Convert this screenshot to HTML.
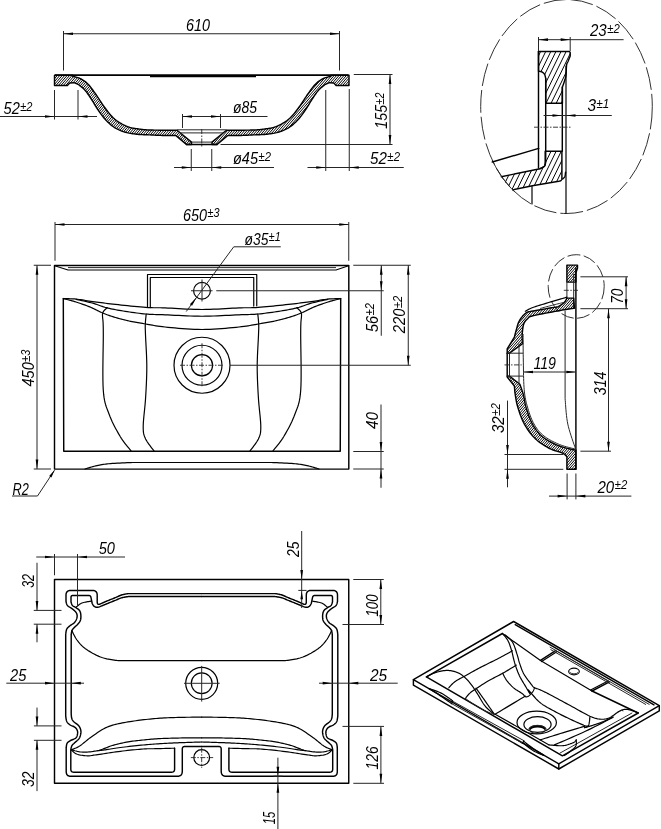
<!DOCTYPE html><html><head><meta charset="utf-8"><title>Drawing</title><style>
html,body{margin:0;padding:0;background:#fff}svg{display:block}
.k{fill:none;stroke:#000;stroke-width:1.45;stroke-linejoin:round;stroke-linecap:round}
.m{fill:none;stroke:#000;stroke-width:1.2;stroke-linejoin:round;stroke-linecap:round}
.t{fill:none;stroke:#262626;stroke-width:1}
.c{fill:none;stroke:#262626;stroke-width:0.9;stroke-dasharray:5 1.5 1.5 1.5}
.e{fill:none;stroke:#262626;stroke-width:0.95;stroke-dasharray:23 4}
.a{fill:#000;stroke:none}
text{font-family:"Liberation Sans",sans-serif;font-style:italic;fill:#000}
</style></head><body>
<svg width="661" height="829" viewBox="0 0 661 829">
<defs>
<pattern id="h1" patternUnits="userSpaceOnUse" width="1.5" height="1.5" patternTransform="rotate(45)"><rect x="0" y="0" width="0.65" height="1.5" fill="#000"/></pattern>
<pattern id="h2" patternUnits="userSpaceOnUse" width="4.6" height="4.6" patternTransform="rotate(27)"><rect x="0" y="0" width="0.7" height="4.6" fill="#000"/></pattern>
</defs>
<rect width="661" height="829" fill="#fff"/>
<g opacity="0.999">
<clipPath id="c1"><path d="M54.5 75.3 L72.7 75.3 L72.7 76.3 L73.15 76.42 L73.74 76.56 L74.42 76.73 L75.2 76.91 L76.03 77.12 L76.9 77.35 L77.79 77.62 L78.66 77.91 L79.51 78.24 L80.3 78.6 L81.05 78.99 L81.8 79.4 L82.55 79.83 L83.3 80.29 L84.05 80.78 L84.8 81.31 L85.55 81.88 L86.3 82.5 L87.05 83.17 L87.8 83.9 L88.56 84.69 L89.31 85.55 L90.07 86.46 L90.83 87.42 L91.59 88.42 L92.36 89.45 L93.12 90.5 L93.88 91.57 L94.64 92.63 L95.4 93.7 L96.16 94.78 L96.92 95.9 L97.68 97.05 L98.44 98.22 L99.21 99.4 L99.97 100.58 L100.73 101.75 L101.49 102.9 L102.24 104.02 L103 105.1 L103.75 106.16 L104.5 107.21 L105.25 108.25 L106 109.28 L106.75 110.29 L107.5 111.27 L108.25 112.23 L109 113.16 L109.75 114.05 L110.5 114.9 L111.24 115.71 L111.97 116.48 L112.68 117.21 L113.39 117.91 L114.11 118.58 L114.84 119.23 L115.6 119.86 L116.39 120.48 L117.22 121.09 L118.1 121.7 L119.03 122.3 L120 122.9 L121.01 123.49 L122.05 124.07 L123.12 124.63 L124.21 125.17 L125.32 125.68 L126.44 126.16 L127.57 126.6 L128.7 127 L129.86 127.36 L131.07 127.68 L132.31 127.96 L133.57 128.21 L134.84 128.44 L136.1 128.64 L137.34 128.82 L138.54 128.99 L139.7 129.15 L140.8 129.3 L141.81 129.44 L142.73 129.55 L143.59 129.64 L144.41 129.72 L145.22 129.78 L146.04 129.83 L146.91 129.88 L147.84 129.92 L148.86 129.96 L150 130 L151.28 130.04 L152.68 130.08 L154.17 130.1 L155.73 130.13 L157.32 130.14 L158.94 130.16 L160.54 130.17 L162.1 130.18 L163.6 130.19 L165 130.2 L166.38 130.21 L167.78 130.21 L169.2 130.21 L170.59 130.21 L171.94 130.21 L173.21 130.21 L174.38 130.21 L175.42 130.2 L176.3 130.2 L177 130.2 L191.5 142.1 L191.5 144.4 L186.4 144.4 L176 135.6 L175.36 135.6 L174.57 135.59 L173.63 135.59 L172.58 135.59 L171.44 135.59 L170.22 135.58 L168.94 135.57 L167.63 135.55 L166.31 135.53 L165 135.5 L163.65 135.46 L162.21 135.41 L160.71 135.36 L159.16 135.3 L157.58 135.23 L156 135.16 L154.43 135.1 L152.89 135.03 L151.41 134.96 L150 134.9 L148.66 134.85 L147.36 134.8 L146.11 134.76 L144.88 134.73 L143.67 134.69 L142.48 134.64 L141.29 134.58 L140.1 134.51 L138.91 134.42 L137.7 134.3 L136.48 134.17 L135.24 134.03 L134.01 133.88 L132.77 133.72 L131.54 133.54 L130.32 133.35 L129.11 133.13 L127.92 132.88 L126.75 132.61 L125.6 132.3 L124.47 131.97 L123.36 131.61 L122.26 131.23 L121.18 130.83 L120.11 130.4 L119.05 129.94 L118.02 129.46 L116.99 128.94 L115.99 128.39 L115 127.8 L114.03 127.18 L113.08 126.51 L112.14 125.82 L111.22 125.09 L110.31 124.33 L109.42 123.55 L108.55 122.74 L107.68 121.91 L106.84 121.06 L106 120.2 L105.18 119.32 L104.39 118.42 L103.62 117.49 L102.86 116.55 L102.11 115.58 L101.37 114.59 L100.64 113.58 L99.9 112.54 L99.15 111.48 L98.4 110.4 L97.63 109.27 L96.85 108.07 L96.07 106.82 L95.28 105.54 L94.5 104.26 L93.72 102.98 L92.96 101.72 L92.22 100.51 L91.5 99.37 L90.8 98.3 L90.14 97.3 L89.5 96.35 L88.89 95.44 L88.29 94.56 L87.71 93.72 L87.13 92.92 L86.56 92.15 L85.98 91.41 L85.4 90.69 L84.8 90 L84.17 89.32 L83.49 88.66 L82.79 88.02 L82.07 87.41 L81.37 86.83 L80.71 86.29 L80.08 85.81 L79.53 85.37 L79.06 85 L78.7 84.7 L74 82.7 L69.7 83 L67.4 85.4 L54.5 85.4 Z"/></clipPath>
<path clip-path="url(#c1)" d="M-10.81 145.4 L51 74.3 M-8.36 145.4 L53.45 74.3 M-5.91 145.4 L55.9 74.3 M-3.46 145.4 L58.35 74.3 M-1.01 145.4 L60.8 74.3 M1.44 145.4 L63.25 74.3 M3.89 145.4 L65.7 74.3 M6.34 145.4 L68.15 74.3 M8.79 145.4 L70.6 74.3 M11.24 145.4 L73.05 74.3 M13.69 145.4 L75.5 74.3 M16.14 145.4 L77.95 74.3 M18.59 145.4 L80.4 74.3 M21.04 145.4 L82.85 74.3 M23.49 145.4 L85.3 74.3 M25.94 145.4 L87.75 74.3 M28.39 145.4 L90.2 74.3 M30.84 145.4 L92.65 74.3 M33.29 145.4 L95.1 74.3 M35.74 145.4 L97.55 74.3 M38.19 145.4 L100 74.3 M40.64 145.4 L102.45 74.3 M43.09 145.4 L104.9 74.3 M45.54 145.4 L107.35 74.3 M47.99 145.4 L109.8 74.3 M50.44 145.4 L112.25 74.3 M52.89 145.4 L114.7 74.3 M55.34 145.4 L117.15 74.3 M57.79 145.4 L119.6 74.3 M60.24 145.4 L122.05 74.3 M62.69 145.4 L124.5 74.3 M65.14 145.4 L126.95 74.3 M67.59 145.4 L129.4 74.3 M70.04 145.4 L131.85 74.3 M72.49 145.4 L134.3 74.3 M74.94 145.4 L136.75 74.3 M77.39 145.4 L139.2 74.3 M79.84 145.4 L141.65 74.3 M82.29 145.4 L144.1 74.3 M84.74 145.4 L146.55 74.3 M87.19 145.4 L149 74.3 M89.64 145.4 L151.45 74.3 M92.09 145.4 L153.9 74.3 M94.54 145.4 L156.35 74.3 M96.99 145.4 L158.8 74.3 M99.44 145.4 L161.25 74.3 M101.89 145.4 L163.7 74.3 M104.34 145.4 L166.15 74.3 M106.79 145.4 L168.6 74.3 M109.24 145.4 L171.05 74.3 M111.69 145.4 L173.5 74.3 M114.14 145.4 L175.95 74.3 M116.59 145.4 L178.4 74.3 M119.04 145.4 L180.85 74.3 M121.49 145.4 L183.3 74.3 M123.94 145.4 L185.75 74.3 M126.39 145.4 L188.2 74.3 M128.84 145.4 L190.65 74.3 M131.29 145.4 L193.1 74.3 M133.74 145.4 L195.55 74.3 M136.19 145.4 L198 74.3 M138.64 145.4 L200.45 74.3 M141.09 145.4 L202.9 74.3 M143.54 145.4 L205.35 74.3 M145.99 145.4 L207.8 74.3 M148.44 145.4 L210.25 74.3 M150.89 145.4 L212.7 74.3 M153.34 145.4 L215.15 74.3 M155.79 145.4 L217.6 74.3 M158.24 145.4 L220.05 74.3 M160.69 145.4 L222.5 74.3 M163.14 145.4 L224.95 74.3 M165.59 145.4 L227.4 74.3 M168.04 145.4 L229.85 74.3 M170.49 145.4 L232.3 74.3 M172.94 145.4 L234.75 74.3 M175.39 145.4 L237.2 74.3 M177.84 145.4 L239.65 74.3 M180.29 145.4 L242.1 74.3 M182.74 145.4 L244.55 74.3 M185.19 145.4 L247 74.3 M187.64 145.4 L249.45 74.3 M190.09 145.4 L251.9 74.3 M192.54 145.4 L254.35 74.3" fill="none" stroke="#000" stroke-width="1.0"/>
<path class="k" d="M54.5 75.3 L72.7 75.3 L72.7 76.3 L73.15 76.42 L73.74 76.56 L74.42 76.73 L75.2 76.91 L76.03 77.12 L76.9 77.35 L77.79 77.62 L78.66 77.91 L79.51 78.24 L80.3 78.6 L81.05 78.99 L81.8 79.4 L82.55 79.83 L83.3 80.29 L84.05 80.78 L84.8 81.31 L85.55 81.88 L86.3 82.5 L87.05 83.17 L87.8 83.9 L88.56 84.69 L89.31 85.55 L90.07 86.46 L90.83 87.42 L91.59 88.42 L92.36 89.45 L93.12 90.5 L93.88 91.57 L94.64 92.63 L95.4 93.7 L96.16 94.78 L96.92 95.9 L97.68 97.05 L98.44 98.22 L99.21 99.4 L99.97 100.58 L100.73 101.75 L101.49 102.9 L102.24 104.02 L103 105.1 L103.75 106.16 L104.5 107.21 L105.25 108.25 L106 109.28 L106.75 110.29 L107.5 111.27 L108.25 112.23 L109 113.16 L109.75 114.05 L110.5 114.9 L111.24 115.71 L111.97 116.48 L112.68 117.21 L113.39 117.91 L114.11 118.58 L114.84 119.23 L115.6 119.86 L116.39 120.48 L117.22 121.09 L118.1 121.7 L119.03 122.3 L120 122.9 L121.01 123.49 L122.05 124.07 L123.12 124.63 L124.21 125.17 L125.32 125.68 L126.44 126.16 L127.57 126.6 L128.7 127 L129.86 127.36 L131.07 127.68 L132.31 127.96 L133.57 128.21 L134.84 128.44 L136.1 128.64 L137.34 128.82 L138.54 128.99 L139.7 129.15 L140.8 129.3 L141.81 129.44 L142.73 129.55 L143.59 129.64 L144.41 129.72 L145.22 129.78 L146.04 129.83 L146.91 129.88 L147.84 129.92 L148.86 129.96 L150 130 L151.28 130.04 L152.68 130.08 L154.17 130.1 L155.73 130.13 L157.32 130.14 L158.94 130.16 L160.54 130.17 L162.1 130.18 L163.6 130.19 L165 130.2 L166.38 130.21 L167.78 130.21 L169.2 130.21 L170.59 130.21 L171.94 130.21 L173.21 130.21 L174.38 130.21 L175.42 130.2 L176.3 130.2 L177 130.2 L191.5 142.1 L191.5 144.4 L186.4 144.4 L176 135.6 L175.36 135.6 L174.57 135.59 L173.63 135.59 L172.58 135.59 L171.44 135.59 L170.22 135.58 L168.94 135.57 L167.63 135.55 L166.31 135.53 L165 135.5 L163.65 135.46 L162.21 135.41 L160.71 135.36 L159.16 135.3 L157.58 135.23 L156 135.16 L154.43 135.1 L152.89 135.03 L151.41 134.96 L150 134.9 L148.66 134.85 L147.36 134.8 L146.11 134.76 L144.88 134.73 L143.67 134.69 L142.48 134.64 L141.29 134.58 L140.1 134.51 L138.91 134.42 L137.7 134.3 L136.48 134.17 L135.24 134.03 L134.01 133.88 L132.77 133.72 L131.54 133.54 L130.32 133.35 L129.11 133.13 L127.92 132.88 L126.75 132.61 L125.6 132.3 L124.47 131.97 L123.36 131.61 L122.26 131.23 L121.18 130.83 L120.11 130.4 L119.05 129.94 L118.02 129.46 L116.99 128.94 L115.99 128.39 L115 127.8 L114.03 127.18 L113.08 126.51 L112.14 125.82 L111.22 125.09 L110.31 124.33 L109.42 123.55 L108.55 122.74 L107.68 121.91 L106.84 121.06 L106 120.2 L105.18 119.32 L104.39 118.42 L103.62 117.49 L102.86 116.55 L102.11 115.58 L101.37 114.59 L100.64 113.58 L99.9 112.54 L99.15 111.48 L98.4 110.4 L97.63 109.27 L96.85 108.07 L96.07 106.82 L95.28 105.54 L94.5 104.26 L93.72 102.98 L92.96 101.72 L92.22 100.51 L91.5 99.37 L90.8 98.3 L90.14 97.3 L89.5 96.35 L88.89 95.44 L88.29 94.56 L87.71 93.72 L87.13 92.92 L86.56 92.15 L85.98 91.41 L85.4 90.69 L84.8 90 L84.17 89.32 L83.49 88.66 L82.79 88.02 L82.07 87.41 L81.37 86.83 L80.71 86.29 L80.08 85.81 L79.53 85.37 L79.06 85 L78.7 84.7 L74 82.7 L69.7 83 L67.4 85.4 L54.5 85.4 Z"/>
<clipPath id="c2"><path d="M349 75.3 L330.8 75.3 L330.8 76.3 L330.35 76.42 L329.76 76.56 L329.08 76.73 L328.3 76.91 L327.47 77.12 L326.6 77.35 L325.71 77.62 L324.84 77.91 L323.99 78.24 L323.2 78.6 L322.45 78.99 L321.7 79.4 L320.95 79.83 L320.2 80.29 L319.45 80.78 L318.7 81.31 L317.95 81.88 L317.2 82.5 L316.45 83.17 L315.7 83.9 L314.94 84.69 L314.19 85.55 L313.43 86.46 L312.67 87.42 L311.91 88.42 L311.14 89.45 L310.38 90.5 L309.62 91.57 L308.86 92.63 L308.1 93.7 L307.34 94.78 L306.58 95.9 L305.82 97.05 L305.06 98.22 L304.29 99.4 L303.53 100.58 L302.77 101.75 L302.01 102.9 L301.26 104.02 L300.5 105.1 L299.75 106.16 L299 107.21 L298.25 108.25 L297.5 109.28 L296.75 110.29 L296 111.27 L295.25 112.23 L294.5 113.16 L293.75 114.05 L293 114.9 L292.26 115.71 L291.53 116.48 L290.82 117.21 L290.11 117.91 L289.39 118.58 L288.66 119.23 L287.9 119.86 L287.11 120.48 L286.28 121.09 L285.4 121.7 L284.47 122.3 L283.5 122.9 L282.49 123.49 L281.45 124.07 L280.38 124.63 L279.29 125.17 L278.18 125.68 L277.06 126.16 L275.93 126.6 L274.8 127 L273.64 127.36 L272.43 127.68 L271.19 127.96 L269.93 128.21 L268.66 128.44 L267.4 128.64 L266.16 128.82 L264.96 128.99 L263.8 129.15 L262.7 129.3 L261.69 129.44 L260.77 129.55 L259.91 129.64 L259.09 129.72 L258.28 129.78 L257.46 129.83 L256.59 129.88 L255.66 129.92 L254.64 129.96 L253.5 130 L252.22 130.04 L250.82 130.08 L249.33 130.1 L247.77 130.13 L246.18 130.14 L244.56 130.16 L242.96 130.17 L241.4 130.18 L239.9 130.19 L238.5 130.2 L237.12 130.21 L235.72 130.21 L234.3 130.21 L232.91 130.21 L231.56 130.21 L230.29 130.21 L229.12 130.21 L228.08 130.2 L227.2 130.2 L226.5 130.2 L212 142.1 L212 144.4 L217.1 144.4 L227.5 135.6 L228.14 135.6 L228.93 135.59 L229.87 135.59 L230.92 135.59 L232.06 135.59 L233.28 135.58 L234.56 135.57 L235.87 135.55 L237.19 135.53 L238.5 135.5 L239.85 135.46 L241.29 135.41 L242.79 135.36 L244.34 135.3 L245.92 135.23 L247.5 135.16 L249.07 135.1 L250.61 135.03 L252.09 134.96 L253.5 134.9 L254.84 134.85 L256.14 134.8 L257.39 134.76 L258.62 134.73 L259.83 134.69 L261.02 134.64 L262.21 134.58 L263.4 134.51 L264.59 134.42 L265.8 134.3 L267.02 134.17 L268.26 134.03 L269.49 133.88 L270.73 133.72 L271.96 133.54 L273.18 133.35 L274.39 133.13 L275.58 132.88 L276.75 132.61 L277.9 132.3 L279.03 131.97 L280.14 131.61 L281.24 131.23 L282.32 130.83 L283.39 130.4 L284.45 129.94 L285.48 129.46 L286.51 128.94 L287.51 128.39 L288.5 127.8 L289.47 127.18 L290.42 126.51 L291.36 125.82 L292.28 125.09 L293.19 124.33 L294.08 123.55 L294.95 122.74 L295.82 121.91 L296.66 121.06 L297.5 120.2 L298.32 119.32 L299.11 118.42 L299.88 117.49 L300.64 116.55 L301.39 115.58 L302.13 114.59 L302.86 113.58 L303.6 112.54 L304.35 111.48 L305.1 110.4 L305.87 109.27 L306.65 108.07 L307.43 106.82 L308.22 105.54 L309 104.26 L309.78 102.98 L310.54 101.72 L311.28 100.51 L312 99.37 L312.7 98.3 L313.36 97.3 L314 96.35 L314.61 95.44 L315.21 94.56 L315.79 93.72 L316.37 92.92 L316.94 92.15 L317.52 91.41 L318.1 90.69 L318.7 90 L319.33 89.32 L320.01 88.66 L320.71 88.02 L321.43 87.41 L322.12 86.83 L322.79 86.29 L323.42 85.81 L323.97 85.37 L324.44 85 L324.8 84.7 L329.5 82.7 L333.8 83 L336.1 85.4 L349 85.4 Z"/></clipPath>
<path clip-path="url(#c2)" d="M145.99 145.4 L207.8 74.3 M148.44 145.4 L210.25 74.3 M150.89 145.4 L212.7 74.3 M153.34 145.4 L215.15 74.3 M155.79 145.4 L217.6 74.3 M158.24 145.4 L220.05 74.3 M160.69 145.4 L222.5 74.3 M163.14 145.4 L224.95 74.3 M165.59 145.4 L227.4 74.3 M168.04 145.4 L229.85 74.3 M170.49 145.4 L232.3 74.3 M172.94 145.4 L234.75 74.3 M175.39 145.4 L237.2 74.3 M177.84 145.4 L239.65 74.3 M180.29 145.4 L242.1 74.3 M182.74 145.4 L244.55 74.3 M185.19 145.4 L247 74.3 M187.64 145.4 L249.45 74.3 M190.09 145.4 L251.9 74.3 M192.54 145.4 L254.35 74.3 M194.99 145.4 L256.8 74.3 M197.44 145.4 L259.25 74.3 M199.89 145.4 L261.7 74.3 M202.34 145.4 L264.15 74.3 M204.79 145.4 L266.6 74.3 M207.24 145.4 L269.05 74.3 M209.69 145.4 L271.5 74.3 M212.14 145.4 L273.95 74.3 M214.59 145.4 L276.4 74.3 M217.04 145.4 L278.85 74.3 M219.49 145.4 L281.3 74.3 M221.94 145.4 L283.75 74.3 M224.39 145.4 L286.2 74.3 M226.84 145.4 L288.65 74.3 M229.29 145.4 L291.1 74.3 M231.74 145.4 L293.55 74.3 M234.19 145.4 L296 74.3 M236.64 145.4 L298.45 74.3 M239.09 145.4 L300.9 74.3 M241.54 145.4 L303.35 74.3 M243.99 145.4 L305.8 74.3 M246.44 145.4 L308.25 74.3 M248.89 145.4 L310.7 74.3 M251.34 145.4 L313.15 74.3 M253.79 145.4 L315.6 74.3 M256.24 145.4 L318.05 74.3 M258.69 145.4 L320.5 74.3 M261.14 145.4 L322.95 74.3 M263.59 145.4 L325.4 74.3 M266.04 145.4 L327.85 74.3 M268.49 145.4 L330.3 74.3 M270.94 145.4 L332.75 74.3 M273.39 145.4 L335.2 74.3 M275.84 145.4 L337.65 74.3 M278.29 145.4 L340.1 74.3 M280.74 145.4 L342.55 74.3 M283.19 145.4 L345 74.3 M285.64 145.4 L347.45 74.3 M288.09 145.4 L349.9 74.3 M290.54 145.4 L352.35 74.3 M292.99 145.4 L354.8 74.3 M295.44 145.4 L357.25 74.3 M297.89 145.4 L359.7 74.3 M300.34 145.4 L362.15 74.3 M302.79 145.4 L364.6 74.3 M305.24 145.4 L367.05 74.3 M307.69 145.4 L369.5 74.3 M310.14 145.4 L371.95 74.3 M312.59 145.4 L374.4 74.3 M315.04 145.4 L376.85 74.3 M317.49 145.4 L379.3 74.3 M319.94 145.4 L381.75 74.3 M322.39 145.4 L384.2 74.3 M324.84 145.4 L386.65 74.3 M327.29 145.4 L389.1 74.3 M329.74 145.4 L391.55 74.3 M332.19 145.4 L394 74.3 M334.64 145.4 L396.45 74.3 M337.09 145.4 L398.9 74.3 M339.54 145.4 L401.35 74.3 M341.99 145.4 L403.8 74.3 M344.44 145.4 L406.25 74.3 M346.89 145.4 L408.7 74.3 M349.34 145.4 L411.15 74.3 M351.79 145.4 L413.6 74.3" fill="none" stroke="#000" stroke-width="1.0"/>
<path class="k" d="M349 75.3 L330.8 75.3 L330.8 76.3 L330.35 76.42 L329.76 76.56 L329.08 76.73 L328.3 76.91 L327.47 77.12 L326.6 77.35 L325.71 77.62 L324.84 77.91 L323.99 78.24 L323.2 78.6 L322.45 78.99 L321.7 79.4 L320.95 79.83 L320.2 80.29 L319.45 80.78 L318.7 81.31 L317.95 81.88 L317.2 82.5 L316.45 83.17 L315.7 83.9 L314.94 84.69 L314.19 85.55 L313.43 86.46 L312.67 87.42 L311.91 88.42 L311.14 89.45 L310.38 90.5 L309.62 91.57 L308.86 92.63 L308.1 93.7 L307.34 94.78 L306.58 95.9 L305.82 97.05 L305.06 98.22 L304.29 99.4 L303.53 100.58 L302.77 101.75 L302.01 102.9 L301.26 104.02 L300.5 105.1 L299.75 106.16 L299 107.21 L298.25 108.25 L297.5 109.28 L296.75 110.29 L296 111.27 L295.25 112.23 L294.5 113.16 L293.75 114.05 L293 114.9 L292.26 115.71 L291.53 116.48 L290.82 117.21 L290.11 117.91 L289.39 118.58 L288.66 119.23 L287.9 119.86 L287.11 120.48 L286.28 121.09 L285.4 121.7 L284.47 122.3 L283.5 122.9 L282.49 123.49 L281.45 124.07 L280.38 124.63 L279.29 125.17 L278.18 125.68 L277.06 126.16 L275.93 126.6 L274.8 127 L273.64 127.36 L272.43 127.68 L271.19 127.96 L269.93 128.21 L268.66 128.44 L267.4 128.64 L266.16 128.82 L264.96 128.99 L263.8 129.15 L262.7 129.3 L261.69 129.44 L260.77 129.55 L259.91 129.64 L259.09 129.72 L258.28 129.78 L257.46 129.83 L256.59 129.88 L255.66 129.92 L254.64 129.96 L253.5 130 L252.22 130.04 L250.82 130.08 L249.33 130.1 L247.77 130.13 L246.18 130.14 L244.56 130.16 L242.96 130.17 L241.4 130.18 L239.9 130.19 L238.5 130.2 L237.12 130.21 L235.72 130.21 L234.3 130.21 L232.91 130.21 L231.56 130.21 L230.29 130.21 L229.12 130.21 L228.08 130.2 L227.2 130.2 L226.5 130.2 L212 142.1 L212 144.4 L217.1 144.4 L227.5 135.6 L228.14 135.6 L228.93 135.59 L229.87 135.59 L230.92 135.59 L232.06 135.59 L233.28 135.58 L234.56 135.57 L235.87 135.55 L237.19 135.53 L238.5 135.5 L239.85 135.46 L241.29 135.41 L242.79 135.36 L244.34 135.3 L245.92 135.23 L247.5 135.16 L249.07 135.1 L250.61 135.03 L252.09 134.96 L253.5 134.9 L254.84 134.85 L256.14 134.8 L257.39 134.76 L258.62 134.73 L259.83 134.69 L261.02 134.64 L262.21 134.58 L263.4 134.51 L264.59 134.42 L265.8 134.3 L267.02 134.17 L268.26 134.03 L269.49 133.88 L270.73 133.72 L271.96 133.54 L273.18 133.35 L274.39 133.13 L275.58 132.88 L276.75 132.61 L277.9 132.3 L279.03 131.97 L280.14 131.61 L281.24 131.23 L282.32 130.83 L283.39 130.4 L284.45 129.94 L285.48 129.46 L286.51 128.94 L287.51 128.39 L288.5 127.8 L289.47 127.18 L290.42 126.51 L291.36 125.82 L292.28 125.09 L293.19 124.33 L294.08 123.55 L294.95 122.74 L295.82 121.91 L296.66 121.06 L297.5 120.2 L298.32 119.32 L299.11 118.42 L299.88 117.49 L300.64 116.55 L301.39 115.58 L302.13 114.59 L302.86 113.58 L303.6 112.54 L304.35 111.48 L305.1 110.4 L305.87 109.27 L306.65 108.07 L307.43 106.82 L308.22 105.54 L309 104.26 L309.78 102.98 L310.54 101.72 L311.28 100.51 L312 99.37 L312.7 98.3 L313.36 97.3 L314 96.35 L314.61 95.44 L315.21 94.56 L315.79 93.72 L316.37 92.92 L316.94 92.15 L317.52 91.41 L318.1 90.69 L318.7 90 L319.33 89.32 L320.01 88.66 L320.71 88.02 L321.43 87.41 L322.12 86.83 L322.79 86.29 L323.42 85.81 L323.97 85.37 L324.44 85 L324.8 84.7 L329.5 82.7 L333.8 83 L336.1 85.4 L349 85.4 Z"/>
<path d="M55 75.2 L348.5 75.2" stroke="#000" stroke-width="1.8" fill="none"/>
<path d="M150 76.5 L256 76.5" stroke="#000" stroke-width="1.6" fill="none"/>
<path class="t" d="M177 129.8 L226.5 129.8"/>
<path class="t" d="M180 132.9 L223.5 132.9"/>
<path class="t" d="M191.5 142.1 L212 142.1"/>
<path class="k" d="M186.4 144.4 L217.1 144.4"/>
<path class="c" d="M201.75 129 L201.75 148"/>
<path class="t" d="M63.5 31 L63.5 70.5"/>
<path class="t" d="M339.5 31 L339.5 70.5"/>
<path class="t" d="M63.5 33.75 L339.5 33.75"/>
<path class="a" d="M63.5 33.75 L73 32.4 L73 35.1 Z"/>
<path class="a" d="M339.5 33.75 L330 35.1 L330 32.4 Z"/>
<text x="186" y="30.5" font-size="17" textLength="24" lengthAdjust="spacingAndGlyphs">610</text>
<path class="t" d="M54.5 90 L54.5 119.5"/>
<path class="t" d="M78 90 L78 119.5"/>
<path class="t" d="M0 116.5 L97 116.5"/>
<path class="a" d="M54.5 116.5 L45 117.85 L45 115.15 Z"/>
<path class="a" d="M78 116.5 L87.5 115.15 L87.5 117.85 Z"/>
<text x="3.5" y="114" font-size="17" textLength="16.28" lengthAdjust="spacingAndGlyphs">52</text>
<text x="20.29" y="110.6" font-size="12.58" textLength="12.21" lengthAdjust="spacingAndGlyphs">±2</text>
<path class="t" d="M182.5 114 L182.5 128"/>
<path class="t" d="M220.5 114 L220.5 128"/>
<path class="t" d="M182.5 116.5 L267.5 116.5"/>
<path class="a" d="M182.5 116.5 L192 115.15 L192 117.85 Z"/>
<path class="a" d="M220.5 116.5 L211 117.85 L211 115.15 Z"/>
<text x="233" y="112.5" font-size="17" textLength="24" lengthAdjust="spacingAndGlyphs">ø85</text>
<path class="t" d="M191.25 149 L191.25 171"/>
<path class="t" d="M211.75 149 L211.75 171"/>
<path class="t" d="M174 167.5 L274 167.5"/>
<path class="a" d="M191.25 167.5 L181.75 168.85 L181.75 166.15 Z"/>
<path class="a" d="M211.75 167.5 L221.25 166.15 L221.25 168.85 Z"/>
<text x="233" y="164" font-size="17" textLength="24.99" lengthAdjust="spacingAndGlyphs">ø45</text>
<text x="258.51" y="160.6" font-size="12.58" textLength="12.49" lengthAdjust="spacingAndGlyphs">±2</text>
<path class="t" d="M325.75 90 L325.75 171"/>
<path class="t" d="M349.25 89 L349.25 171"/>
<path class="t" d="M307.5 167.5 L403.75 167.5"/>
<path class="a" d="M325.75 167.5 L316.25 168.85 L316.25 166.15 Z"/>
<path class="a" d="M349.25 167.5 L358.75 166.15 L358.75 168.85 Z"/>
<text x="370" y="164" font-size="17" textLength="16.84" lengthAdjust="spacingAndGlyphs">52</text>
<text x="387.37" y="160.6" font-size="12.58" textLength="12.63" lengthAdjust="spacingAndGlyphs">±2</text>
<path class="t" d="M353.75 74.5 L392.5 74.5"/>
<path class="t" d="M220.5 144.5 L392.5 144.5"/>
<path class="t" d="M390 74.5 L390 144.5"/>
<path class="a" d="M390 74.5 L391.35 84 L388.65 84 Z"/>
<path class="a" d="M390 144.5 L388.65 135 L391.35 135 Z"/>
<g transform="translate(387 128.75) rotate(-90)">
<text x="0" y="0" font-size="17" textLength="23.84" lengthAdjust="spacingAndGlyphs">155</text>
<text x="24.33" y="-3.4" font-size="12.58" textLength="11.92" lengthAdjust="spacingAndGlyphs">±2</text>
</g>
<ellipse class="e" cx="566.5" cy="106.5" rx="85.8" ry="107"/>
<clipPath id="c3"><path d="M538.5 51.5 L569.4 51.5 L570.2 52.4 L570.2 56 L570.2 56 L570.08 56.3 L569.92 56.7 L569.73 57.16 L569.52 57.69 L569.3 58.25 L569.07 58.83 L568.83 59.42 L568.61 59.98 L568.39 60.52 L568.2 61 L568.02 61.41 L567.84 61.77 L567.66 62.09 L567.48 62.39 L567.31 62.7 L567.15 63.03 L566.99 63.41 L566.85 63.84 L566.72 64.37 L566.6 65 L566.5 65.76 L566.43 66.65 L566.37 67.63 L566.33 68.68 L566.29 69.76 L566.26 70.86 L566.21 71.94 L566.16 72.98 L566.09 73.94 L566 74.8 L565.89 75.57 L565.77 76.27 L565.64 76.93 L565.49 77.55 L565.34 78.14 L565.19 78.71 L565.02 79.27 L564.85 79.83 L564.68 80.4 L564.5 81 L564.3 81.64 L564.08 82.31 L563.85 83 L563.6 83.7 L563.36 84.39 L563.12 85.04 L562.89 85.65 L562.7 86.19 L562.53 86.64 L562.4 87 L562.4 103.2 L545.7 103.2 L545.7 78.4 L545.7 78.4 L545.64 78.15 L545.57 77.83 L545.5 77.44 L545.41 77.01 L545.31 76.55 L545.2 76.08 L545.07 75.61 L544.93 75.16 L544.78 74.75 L544.6 74.4 L544.4 74.09 L544.19 73.79 L543.96 73.51 L543.71 73.25 L543.45 73 L543.18 72.77 L542.89 72.55 L542.6 72.35 L542.3 72.17 L542 72 L541.67 71.85 L541.3 71.72 L540.91 71.62 L540.5 71.53 L540.09 71.45 L539.69 71.39 L539.32 71.33 L538.99 71.28 L538.71 71.24 L538.5 71.2 Z"/></clipPath>
<path clip-path="url(#c3)" d="M509.82 104.2 L536.01 50.5 M514.92 104.2 L541.11 50.5 M520.02 104.2 L546.21 50.5 M525.12 104.2 L551.31 50.5 M530.22 104.2 L556.41 50.5 M535.32 104.2 L561.51 50.5 M540.42 104.2 L566.61 50.5 M545.52 104.2 L571.71 50.5 M550.62 104.2 L576.81 50.5 M555.72 104.2 L581.91 50.5 M560.82 104.2 L587.01 50.5 M565.92 104.2 L592.11 50.5 M571.02 104.2 L597.21 50.5 M576.12 104.2 L602.31 50.5" fill="none" stroke="#000" stroke-width="1.0"/>
<path class="k" d="M538.5 51.5 L569.4 51.5 L570.2 52.4 L570.2 56 L570.2 56 L570.08 56.3 L569.92 56.7 L569.73 57.16 L569.52 57.69 L569.3 58.25 L569.07 58.83 L568.83 59.42 L568.61 59.98 L568.39 60.52 L568.2 61 L568.02 61.41 L567.84 61.77 L567.66 62.09 L567.48 62.39 L567.31 62.7 L567.15 63.03 L566.99 63.41 L566.85 63.84 L566.72 64.37 L566.6 65 L566.5 65.76 L566.43 66.65 L566.37 67.63 L566.33 68.68 L566.29 69.76 L566.26 70.86 L566.21 71.94 L566.16 72.98 L566.09 73.94 L566 74.8 L565.89 75.57 L565.77 76.27 L565.64 76.93 L565.49 77.55 L565.34 78.14 L565.19 78.71 L565.02 79.27 L564.85 79.83 L564.68 80.4 L564.5 81 L564.3 81.64 L564.08 82.31 L563.85 83 L563.6 83.7 L563.36 84.39 L563.12 85.04 L562.89 85.65 L562.7 86.19 L562.53 86.64 L562.4 87 L562.4 103.2 L545.7 103.2 L545.7 78.4 L545.7 78.4 L545.64 78.15 L545.57 77.83 L545.5 77.44 L545.41 77.01 L545.31 76.55 L545.2 76.08 L545.07 75.61 L544.93 75.16 L544.78 74.75 L544.6 74.4 L544.4 74.09 L544.19 73.79 L543.96 73.51 L543.71 73.25 L543.45 73 L543.18 72.77 L542.89 72.55 L542.6 72.35 L542.3 72.17 L542 72 L541.67 71.85 L541.3 71.72 L540.91 71.62 L540.5 71.53 L540.09 71.45 L539.69 71.39 L539.32 71.33 L538.99 71.28 L538.71 71.24 L538.5 71.2 Z"/>
<path class="k" d="M538.5 51.5 L538.5 168"/>
<path class="k" d="M545.7 78.4 L545.7 162 L545.7 162 L545.64 162.24 L545.59 162.56 L545.53 162.95 L545.46 163.37 L545.38 163.83 L545.28 164.3 L545.14 164.77 L544.97 165.22 L544.76 165.63 L544.5 166 L544.16 166.33 L543.74 166.67 L543.25 166.99 L542.72 167.3 L542.17 167.6 L541.63 167.88 L541.12 168.13 L540.66 168.35 L540.28 168.55 L540 168.7"/>
<path class="k" d="M562.3 87 L562.3 151.3"/>
<path class="m" d="M566 66 L566 213.5"/>
<clipPath id="c4"><path d="M545.2 151.3 L561.9 151.3 L561.9 178.2 L561.9 178.2 L561.85 178.34 L561.8 178.54 L561.74 178.77 L561.67 179.03 L561.59 179.3 L561.5 179.58 L561.39 179.85 L561.28 180.1 L561.15 180.32 L561 180.5 L560.82 180.64 L560.61 180.77 L560.37 180.88 L560.11 180.97 L559.84 181.04 L559.58 181.11 L559.34 181.17 L559.12 181.22 L558.94 181.26 L558.8 181.3 L532.4 185.8 L512.7 189.9 L506 183.5 L501.3 176.7 L540 168.7 L540 168.7 L540.28 168.55 L540.67 168.35 L541.14 168.13 L541.66 167.88 L542.21 167.6 L542.76 167.3 L543.29 166.99 L543.77 166.67 L544.18 166.33 L544.5 166 L544.73 165.63 L544.89 165.22 L545.01 164.77 L545.09 164.3 L545.13 163.83 L545.15 163.37 L545.16 162.95 L545.17 162.56 L545.18 162.24 L545.2 162 Z"/></clipPath>
<path clip-path="url(#c4)" d="M475.61 190.9 L495.41 150.3 M480.71 190.9 L500.51 150.3 M485.81 190.9 L505.61 150.3 M490.91 190.9 L510.71 150.3 M496.01 190.9 L515.81 150.3 M501.11 190.9 L520.91 150.3 M506.21 190.9 L526.01 150.3 M511.31 190.9 L531.11 150.3 M516.41 190.9 L536.21 150.3 M521.51 190.9 L541.31 150.3 M526.61 190.9 L546.41 150.3 M531.71 190.9 L551.51 150.3 M536.81 190.9 L556.61 150.3 M541.91 190.9 L561.71 150.3 M547.01 190.9 L566.81 150.3 M552.11 190.9 L571.91 150.3 M557.21 190.9 L577.01 150.3 M562.31 190.9 L582.11 150.3 M567.41 190.9 L587.21 150.3" fill="none" stroke="#000" stroke-width="1.0"/>
<path class="k" d="M501.3 176.7 L540 168.7 L540 168.7 L540.28 168.55 L540.67 168.35 L541.14 168.13 L541.66 167.88 L542.21 167.6 L542.76 167.3 L543.29 166.99 L543.77 166.67 L544.18 166.33 L544.5 166 L544.73 165.63 L544.89 165.22 L545.01 164.77 L545.09 164.3 L545.13 163.83 L545.15 163.37 L545.16 162.95 L545.17 162.56 L545.18 162.24 L545.2 162 L545.2 151.3 L561.9 151.3 L561.9 178.2 L561.9 178.2 L561.85 178.34 L561.8 178.54 L561.74 178.77 L561.67 179.03 L561.59 179.3 L561.5 179.58 L561.39 179.85 L561.28 180.1 L561.15 180.32 L561 180.5 L560.82 180.64 L560.61 180.77 L560.37 180.88 L560.11 180.97 L559.84 181.04 L559.58 181.11 L559.34 181.17 L559.12 181.22 L558.94 181.26 L558.8 181.3 L532.4 185.8 L512.7 189.9"/>
<path class="t" d="M492.2 160 L492.94 161.57 L493.71 163.15 L494.52 164.72 L495.35 166.3 L496.22 167.88 L497.12 169.45 L498.06 171.03 L499.03 172.6 L500.04 174.18 L501.09 175.75 L502.19 177.32 L503.32 178.9 L504.51 180.47 L505.74 182.05 L507.03 183.62 L508.37 185.2 L509.77 186.78 L511.24 188.35 L512.77 189.93 L514.38 191.5"/>
<path class="k" d="M492.3 162 L538.7 148.4"/>
<path class="m" d="M532 186.6 L532 204"/>
<path class="k" d="M562.6 179 L562.74 178.86 L562.92 178.69 L563.14 178.49 L563.39 178.27 L563.65 178.02 L563.92 177.75 L564.17 177.46 L564.41 177.16 L564.63 176.83 L564.8 176.5 L564.94 176.12 L565.06 175.69 L565.17 175.21 L565.26 174.7 L565.34 174.19 L565.4 173.7 L565.46 173.23 L565.51 172.81 L565.56 172.46 L565.6 172.2"/>
<path class="c" d="M534 127.2 L571 127.2"/>
<path class="t" d="M538.5 37 L538.5 51"/>
<path class="t" d="M570.2 37 L570.2 51"/>
<path class="t" d="M538.5 39.7 L623.6 39.7"/>
<path class="a" d="M538.5 39.7 L548 38.35 L548 41.05 Z"/>
<path class="a" d="M570.2 39.7 L560.7 41.05 L560.7 38.35 Z"/>
<text x="590" y="36.4" font-size="17" textLength="16.73" lengthAdjust="spacingAndGlyphs">23</text>
<text x="607.25" y="33" font-size="12.58" textLength="12.55" lengthAdjust="spacingAndGlyphs">±2</text>
<path class="t" d="M543.6 115.5 L611.8 115.5"/>
<path class="a" d="M562 115.5 L552.5 116.85 L552.5 114.15 Z"/>
<path class="a" d="M566 115.5 L575.5 114.15 L575.5 116.85 Z"/>
<text x="587.4" y="111.3" font-size="17" textLength="8.55" lengthAdjust="spacingAndGlyphs">3</text>
<text x="596.48" y="107.9" font-size="12.58" textLength="12.82" lengthAdjust="spacingAndGlyphs">±1</text>
<rect class="k" x="54.5" y="265.5" width="294.3" height="203.6"/>
<path class="m" d="M54.7 265.8 L68 270 L336 270 L348.6 265.8"/>
<path class="t" d="M68 267.6 L336 267.6"/>
<path class="k" d="M63.3 298.6 L63.75 451.2 L340.25 451.2 L340.7 298.6"/>
<path class="m" d="M63.3 298.6 L64.05 298.62 L65 298.64 L66.11 298.65 L67.35 298.67 L68.71 298.69 L70.15 298.73 L71.65 298.79 L73.18 298.86 L74.7 298.97 L76.2 299.1 L77.68 299.27 L79.19 299.47 L80.72 299.69 L82.28 299.94 L83.89 300.21 L85.54 300.48 L87.26 300.76 L89.03 301.05 L90.88 301.33 L92.8 301.6 L94.79 301.87 L96.83 302.14 L98.92 302.41 L101.08 302.69 L103.29 302.97 L105.58 303.25 L107.94 303.54 L110.38 303.82 L112.89 304.11 L115.5 304.4 L118.27 304.7 L121.25 305.03 L124.38 305.36 L127.61 305.71 L130.87 306.04 L134.11 306.37 L137.29 306.68 L140.33 306.96 L143.19 307.2 L145.8 307.4 L148.09 307.55 L150.07 307.64 L151.82 307.7 L153.42 307.73 L154.98 307.74 L156.57 307.74 L158.28 307.75 L160.2 307.77 L162.41 307.82 L165 307.9 L167.98 308.03 L171.26 308.2 L174.79 308.4 L178.52 308.61 L182.39 308.83 L186.35 309.04 L190.34 309.22 L194.32 309.37 L198.22 309.46 L202 309.5 L205.78 309.46 L209.68 309.37 L213.66 309.22 L217.65 309.04 L221.61 308.83 L225.48 308.61 L229.21 308.4 L232.74 308.2 L236.02 308.03 L239 307.9 L241.59 307.82 L243.8 307.77 L245.72 307.75 L247.43 307.74 L249.02 307.74 L250.58 307.73 L252.18 307.7 L253.93 307.64 L255.91 307.55 L258.2 307.4 L260.81 307.2 L263.67 306.96 L266.71 306.68 L269.89 306.37 L273.13 306.04 L276.39 305.71 L279.62 305.36 L282.75 305.03 L285.73 304.7 L288.5 304.4 L291.11 304.11 L293.62 303.82 L296.06 303.54 L298.42 303.25 L300.71 302.97 L302.92 302.69 L305.08 302.41 L307.17 302.14 L309.21 301.87 L311.2 301.6 L313.12 301.33 L314.97 301.05 L316.74 300.76 L318.46 300.48 L320.11 300.21 L321.72 299.94 L323.28 299.69 L324.81 299.47 L326.32 299.27 L327.8 299.1 L329.3 298.97 L330.82 298.86 L332.35 298.79 L333.85 298.73 L335.29 298.69 L336.65 298.67 L337.89 298.65 L339 298.64 L339.95 298.62 L340.7 298.6"/>
<path class="m" d="M76.2 299.4 L77.2 299.62 L78.51 299.91 L80.05 300.24 L81.79 300.61 L83.65 301.02 L85.58 301.45 L87.52 301.89 L89.41 302.33 L91.19 302.77 L92.8 303.2 L94.27 303.63 L95.66 304.07 L97 304.54 L98.31 305.01 L99.59 305.48 L100.88 305.95 L102.19 306.42 L103.53 306.87 L104.93 307.3 L106.4 307.7 L107.92 308.08 L109.45 308.44 L110.99 308.79 L112.57 309.12 L114.18 309.44 L115.84 309.76 L117.55 310.07 L119.33 310.38 L121.17 310.69 L123.1 311 L125.14 311.32 L127.31 311.65 L129.58 311.99 L131.92 312.33 L134.29 312.66 L136.68 312.97 L139.06 313.27 L141.39 313.55 L143.64 313.79 L145.8 314 L147.78 314.17 L149.58 314.29 L151.26 314.38 L152.88 314.45 L154.51 314.5 L156.21 314.54 L158.04 314.58 L160.08 314.63 L162.37 314.7 L165 314.8 L167.98 314.93 L171.26 315.09 L174.79 315.28 L178.52 315.47 L182.39 315.67 L186.35 315.85 L190.34 316.01 L194.32 316.14 L198.22 316.22 L202 316.25 L205.78 316.22 L209.68 316.14 L213.66 316.01 L217.65 315.85 L221.61 315.67 L225.48 315.47 L229.21 315.28 L232.74 315.09 L236.02 314.93 L239 314.8 L241.63 314.7 L243.92 314.63 L245.96 314.58 L247.79 314.54 L249.49 314.5 L251.12 314.45 L252.74 314.38 L254.42 314.29 L256.22 314.17 L258.2 314 L260.36 313.79 L262.61 313.55 L264.94 313.27 L267.32 312.97 L269.71 312.66 L272.08 312.33 L274.42 311.99 L276.69 311.65 L278.86 311.32 L280.9 311 L282.83 310.69 L284.67 310.38 L286.45 310.07 L288.16 309.76 L289.82 309.44 L291.43 309.12 L293.01 308.79 L294.55 308.44 L296.08 308.08 L297.6 307.7 L299.07 307.3 L300.47 306.87 L301.81 306.42 L303.12 305.95 L304.41 305.48 L305.69 305.01 L307 304.54 L308.34 304.07 L309.73 303.63 L311.2 303.2 L312.81 302.77 L314.59 302.33 L316.48 301.89 L318.42 301.45 L320.35 301.02 L322.21 300.61 L323.95 300.24 L325.49 299.91 L326.8 299.62 L327.8 299.4"/>
<path class="m" d="M63.3 298.6 L63.96 298.77 L64.79 298.97 L65.77 299.21 L66.86 299.47 L68.06 299.77 L69.33 300.09 L70.65 300.44 L72 300.8 L73.36 301.19 L74.7 301.6 L76.07 302.03 L77.52 302.5 L79.03 303 L80.58 303.52 L82.16 304.06 L83.74 304.61 L85.32 305.18 L86.86 305.75 L88.36 306.33 L89.8 306.9 L91.18 307.48 L92.52 308.09 L93.83 308.72 L95.12 309.36 L96.39 310 L97.65 310.64 L98.91 311.26 L100.16 311.87 L101.42 312.45 L102.7 313 L103.97 313.52 L105.23 314.01 L106.47 314.49 L107.72 314.95 L108.96 315.39 L110.22 315.83 L111.49 316.25 L112.79 316.67 L114.13 317.09 L115.5 317.5 L116.92 317.91 L118.37 318.32 L119.86 318.73 L121.37 319.12 L122.9 319.51 L124.44 319.89 L125.99 320.26 L127.54 320.62 L129.08 320.97 L130.6 321.3 L132.1 321.61 L133.57 321.91 L135.03 322.18 L136.48 322.44 L137.94 322.7 L139.43 322.95 L140.94 323.2 L142.5 323.46 L144.12 323.72 L145.8 324 L147.48 324.29 L149.1 324.59 L150.71 324.89 L152.34 325.2 L154.04 325.51 L155.85 325.82 L157.81 326.13 L159.96 326.43 L162.34 326.72 L165 327 L167.98 327.29 L171.26 327.61 L174.79 327.94 L178.52 328.28 L182.39 328.59 L186.35 328.88 L190.34 329.13 L194.32 329.33 L198.22 329.45 L202 329.5 L205.78 329.45 L209.68 329.33 L213.66 329.13 L217.65 328.88 L221.61 328.59 L225.48 328.28 L229.21 327.94 L232.74 327.61 L236.02 327.29 L239 327 L241.66 326.72 L244.04 326.43 L246.19 326.13 L248.15 325.82 L249.96 325.51 L251.66 325.2 L253.29 324.89 L254.9 324.59 L256.52 324.29 L258.2 324 L259.88 323.72 L261.5 323.46 L263.06 323.2 L264.57 322.95 L266.06 322.7 L267.52 322.44 L268.97 322.18 L270.43 321.91 L271.9 321.61 L273.4 321.3 L274.92 320.97 L276.46 320.62 L278.01 320.26 L279.56 319.89 L281.1 319.51 L282.63 319.12 L284.14 318.73 L285.63 318.32 L287.08 317.91 L288.5 317.5 L289.87 317.09 L291.21 316.67 L292.51 316.25 L293.78 315.83 L295.04 315.39 L296.28 314.95 L297.53 314.49 L298.77 314.01 L300.03 313.52 L301.3 313 L302.58 312.45 L303.84 311.87 L305.09 311.26 L306.35 310.64 L307.61 310 L308.88 309.36 L310.17 308.72 L311.48 308.09 L312.82 307.48 L314.2 306.9 L315.64 306.33 L317.14 305.75 L318.68 305.18 L320.26 304.61 L321.84 304.06 L323.42 303.52 L324.97 303 L326.48 302.5 L327.93 302.03 L329.3 301.6 L330.64 301.19 L332 300.8 L333.35 300.44 L334.67 300.09 L335.94 299.77 L337.14 299.47 L338.23 299.21 L339.21 298.97 L340.04 298.77 L340.7 298.6"/>
<path class="m" d="M107.2 307.7 L106.91 308 L106.51 308.35 L106.03 308.76 L105.49 309.22 L104.93 309.74 L104.36 310.3 L103.83 310.91 L103.36 311.57 L102.97 312.26 L102.7 313 L102.54 313.79 L102.47 314.63 L102.47 315.53 L102.52 316.48 L102.61 317.47 L102.72 318.49 L102.84 319.54 L102.95 320.61 L103.05 321.7 L103.1 322.8 L103.13 323.73 L103.16 324.39 L103.18 324.92 L103.2 325.43 L103.22 326.04 L103.24 326.89 L103.26 328.08 L103.28 329.75 L103.29 332.02 L103.3 335 L103.28 338.94 L103.22 343.83 L103.13 349.45 L103.03 355.58 L102.94 362 L102.88 368.48 L102.87 374.79 L102.92 380.71 L103.06 386.02 L103.3 390.5 L103.63 394.2 L104.04 397.38 L104.5 400.14 L105.03 402.55 L105.62 404.71 L106.26 406.7 L106.95 408.6 L107.69 410.51 L108.47 412.52 L109.3 414.7 L110.19 417.01 L111.17 419.33 L112.21 421.65 L113.31 423.94 L114.44 426.21 L115.6 428.42 L116.78 430.57 L117.94 432.65 L119.09 434.63 L120.2 436.5 L121.34 438.31 L122.55 440.1 L123.81 441.84 L125.08 443.52 L126.33 445.11 L127.52 446.59 L128.63 447.95 L129.62 449.14 L130.45 450.17 L131.1 451"/>
<path class="m" d="M296.8 307.7 L297.09 308 L297.49 308.35 L297.97 308.76 L298.51 309.22 L299.08 309.74 L299.64 310.3 L300.17 310.91 L300.64 311.57 L301.03 312.26 L301.3 313 L301.46 313.79 L301.53 314.63 L301.53 315.53 L301.48 316.48 L301.39 317.47 L301.28 318.49 L301.16 319.54 L301.05 320.61 L300.95 321.7 L300.9 322.8 L300.87 323.73 L300.84 324.39 L300.82 324.92 L300.8 325.43 L300.77 326.04 L300.76 326.89 L300.74 328.08 L300.72 329.75 L300.71 332.02 L300.7 335 L300.72 338.94 L300.78 343.83 L300.87 349.45 L300.97 355.58 L301.06 362 L301.12 368.48 L301.13 374.79 L301.08 380.71 L300.94 386.02 L300.7 390.5 L300.37 394.2 L299.96 397.38 L299.5 400.14 L298.97 402.55 L298.38 404.71 L297.74 406.7 L297.05 408.6 L296.31 410.51 L295.53 412.52 L294.7 414.7 L293.81 417.01 L292.83 419.33 L291.79 421.65 L290.69 423.94 L289.56 426.21 L288.4 428.42 L287.22 430.57 L286.06 432.65 L284.91 434.63 L283.8 436.5 L282.66 438.31 L281.45 440.1 L280.19 441.84 L278.92 443.52 L277.67 445.11 L276.48 446.59 L275.37 447.95 L274.38 449.14 L273.55 450.17 L272.9 451"/>
<path class="m" d="M146.2 314 L146.14 314.61 L146.06 315.39 L145.96 316.32 L145.85 317.36 L145.74 318.48 L145.62 319.66 L145.52 320.86 L145.42 322.05 L145.35 323.21 L145.3 324.3 L145.27 325.26 L145.25 326.08 L145.24 326.83 L145.25 327.56 L145.26 328.34 L145.29 329.22 L145.32 330.26 L145.37 331.54 L145.43 333.09 L145.5 335 L145.6 337.29 L145.73 339.94 L145.89 342.87 L146.06 346.03 L146.24 349.35 L146.41 352.78 L146.56 356.25 L146.68 359.7 L146.77 363.07 L146.8 366.3 L146.79 369.45 L146.74 372.63 L146.66 375.81 L146.56 379.01 L146.43 382.19 L146.29 385.37 L146.13 388.53 L145.96 391.66 L145.78 394.75 L145.6 397.8 L145.39 400.88 L145.12 404.03 L144.82 407.22 L144.5 410.39 L144.17 413.51 L143.87 416.54 L143.6 419.42 L143.39 422.12 L143.25 424.6 L143.2 426.8 L143.22 428.69 L143.28 430.3 L143.38 431.67 L143.52 432.86 L143.72 433.91 L143.97 434.87 L144.28 435.8 L144.65 436.75 L145.09 437.77 L145.6 438.9 L146.24 440.16 L147.05 441.51 L147.97 442.91 L148.97 444.32 L150 445.71 L151.02 447.03 L151.98 448.26 L152.85 449.35 L153.57 450.28 L154.1 451"/>
<path class="m" d="M257.8 314 L257.86 314.61 L257.94 315.39 L258.04 316.32 L258.15 317.36 L258.26 318.48 L258.38 319.66 L258.48 320.86 L258.58 322.05 L258.65 323.21 L258.7 324.3 L258.73 325.26 L258.75 326.08 L258.76 326.83 L258.75 327.56 L258.74 328.34 L258.71 329.22 L258.68 330.26 L258.63 331.54 L258.57 333.09 L258.5 335 L258.4 337.29 L258.27 339.94 L258.11 342.87 L257.94 346.03 L257.76 349.35 L257.59 352.78 L257.44 356.25 L257.32 359.7 L257.23 363.07 L257.2 366.3 L257.21 369.45 L257.26 372.63 L257.34 375.81 L257.44 379.01 L257.57 382.19 L257.71 385.37 L257.87 388.53 L258.04 391.66 L258.22 394.75 L258.4 397.8 L258.61 400.88 L258.88 404.03 L259.18 407.22 L259.5 410.39 L259.82 413.51 L260.13 416.54 L260.39 419.42 L260.61 422.12 L260.75 424.6 L260.8 426.8 L260.78 428.69 L260.72 430.3 L260.62 431.67 L260.48 432.86 L260.28 433.91 L260.03 434.87 L259.72 435.8 L259.35 436.75 L258.91 437.77 L258.4 438.9 L257.76 440.16 L256.95 441.51 L256.03 442.91 L255.03 444.32 L254 445.71 L252.98 447.03 L252.02 448.26 L251.15 449.35 L250.43 450.28 L249.9 451"/>
<path class="m" d="M147.5 307.5 L147.5 274.5 L256.75 274.5 L256.75 305.8"/>
<path class="m" d="M150.3 307.6 L150.3 277.5 L253.75 277.5 L253.75 306.1"/>
<circle class="m" cx="202" cy="290.75" r="8.4"/>
<path class="t" d="M191 290.75 L212.5 290.75"/>
<path class="t" d="M202 279.5 L202 301.5"/>
<circle class="m" cx="202" cy="365.25" r="28"/>
<circle class="m" cx="202" cy="365.25" r="20"/>
<circle class="m" cx="202" cy="365.25" r="10.6"/>
<path class="c" d="M180 365.25 L222.5 365.25"/>
<path class="c" d="M202 343.25 L202 387"/>
<path class="m" d="M85 469 L85.71 468.79 L86.61 468.52 L87.67 468.19 L88.86 467.82 L90.16 467.43 L91.52 467.02 L92.91 466.62 L94.31 466.24 L95.69 465.9 L97 465.6 L98.25 465.34 L99.47 465.1 L100.68 464.87 L101.89 464.66 L103.14 464.46 L104.43 464.27 L105.79 464.09 L107.24 463.92 L108.81 463.76 L110.5 463.6 L112.44 463.45 L114.68 463.3 L117.12 463.17 L119.67 463.04 L122.24 462.93 L124.75 462.82 L127.1 462.72 L129.2 462.64 L130.97 462.56 L132.3 462.5 L271.7 462.5 L273.03 462.56 L274.8 462.64 L276.9 462.72 L279.25 462.82 L281.76 462.93 L284.33 463.04 L286.88 463.17 L289.32 463.3 L291.56 463.45 L293.5 463.6 L295.19 463.76 L296.76 463.92 L298.21 464.09 L299.57 464.27 L300.86 464.46 L302.11 464.66 L303.32 464.87 L304.53 465.1 L305.75 465.34 L307 465.6 L308.31 465.9 L309.69 466.24 L311.09 466.62 L312.48 467.02 L313.84 467.43 L315.14 467.82 L316.33 468.19 L317.39 468.52 L318.29 468.79 L319 469"/>
<path class="t" d="M55 222 L55 260.75"/>
<path class="t" d="M348.75 222 L348.75 260.75"/>
<path class="t" d="M55 224.5 L348.75 224.5"/>
<path class="a" d="M55 224.5 L64.5 223.15 L64.5 225.85 Z"/>
<path class="a" d="M348.75 224.5 L339.25 225.85 L339.25 223.15 Z"/>
<text x="183" y="220.75" font-size="17" textLength="24" lengthAdjust="spacingAndGlyphs">650</text>
<text x="207.5" y="217.35" font-size="12.58" textLength="12" lengthAdjust="spacingAndGlyphs">±3</text>
<path class="t" d="M33.75 265.25 L51 265.25"/>
<path class="t" d="M33.75 469 L51 469"/>
<path class="t" d="M37 265.25 L37 469"/>
<path class="a" d="M37 265.25 L38.35 274.75 L35.65 274.75 Z"/>
<path class="a" d="M37 469 L35.65 459.5 L38.35 459.5 Z"/>
<g transform="translate(33.75 386.5) rotate(-90)">
<text x="0" y="0" font-size="17" textLength="24.33" lengthAdjust="spacingAndGlyphs">450</text>
<text x="24.84" y="-3.4" font-size="12.58" textLength="12.16" lengthAdjust="spacingAndGlyphs">±3</text>
</g>
<text x="244.5" y="244.5" font-size="17" textLength="23.84" lengthAdjust="spacingAndGlyphs">ø35</text>
<text x="268.83" y="241.1" font-size="12.58" textLength="11.92" lengthAdjust="spacingAndGlyphs">±1</text>
<path class="t" d="M233.75 246.8 L280.75 246.8"/>
<path class="t" d="M233.75 246.8 L186.25 311.5"/>
<path class="a" d="M196.6 297.3 L192.08 305.77 L189.9 304.17 Z"/>
<path class="t" d="M216.25 290.75 L383.75 290.75"/>
<path class="t" d="M230 365.25 L410.75 365.25"/>
<path class="t" d="M353.25 265.25 L410.75 265.25"/>
<path class="t" d="M381.25 265.25 L381.25 335.75"/>
<path class="a" d="M381.25 265.25 L382.6 274.75 L379.9 274.75 Z"/>
<path class="a" d="M381.25 290.75 L379.9 281.25 L382.6 281.25 Z"/>
<g transform="translate(377.5 332) rotate(-90)">
<text x="0" y="0" font-size="17" textLength="16.14" lengthAdjust="spacingAndGlyphs">56</text>
<text x="16.64" y="-3.4" font-size="12.58" textLength="12.11" lengthAdjust="spacingAndGlyphs">±2</text>
</g>
<path class="t" d="M408.25 265.25 L408.25 365.25"/>
<path class="a" d="M408.25 265.25 L409.6 274.75 L406.9 274.75 Z"/>
<path class="a" d="M408.25 365.25 L406.9 355.75 L409.6 355.75 Z"/>
<g transform="translate(405 333.25) rotate(-90)">
<text x="0" y="0" font-size="17" textLength="24.66" lengthAdjust="spacingAndGlyphs">220</text>
<text x="25.17" y="-3.4" font-size="12.58" textLength="12.33" lengthAdjust="spacingAndGlyphs">±2</text>
</g>
<path class="t" d="M353.25 451.5 L383.75 451.5"/>
<path class="t" d="M353.25 469 L383.75 469"/>
<path class="t" d="M381 404.5 L381 487.75"/>
<path class="a" d="M381 451.5 L379.65 442 L382.35 442 Z"/>
<path class="a" d="M381 469 L382.35 478.5 L379.65 478.5 Z"/>
<g transform="translate(377.5 429) rotate(-90)">
<text x="0" y="0" font-size="17" textLength="17" lengthAdjust="spacingAndGlyphs">40</text>
</g>
<text x="12.5" y="494.5" font-size="17" textLength="16.25" lengthAdjust="spacingAndGlyphs">R2</text>
<path class="t" d="M12 496 L37.5 496"/>
<path class="t" d="M37.5 496 L54.5 470.25"/>
<path class="a" d="M54.7 470 L51.42 477.42 L49.17 475.93 Z"/>
<ellipse class="e" style="stroke-dasharray:13 3.5" cx="576.2" cy="286.5" rx="28" ry="31.8"/>
<clipPath id="c5"><path d="M566.9 265.1 L577.5 265.1 L577.5 268 L575.9 273 L575.9 282.1 L566.9 282.1 Z"/></clipPath>
<path clip-path="url(#c5)" d="M547.45 283.1 L563.96 264.1 M549.9 283.1 L566.41 264.1 M552.35 283.1 L568.86 264.1 M554.8 283.1 L571.31 264.1 M557.25 283.1 L573.76 264.1 M559.7 283.1 L576.21 264.1 M562.15 283.1 L578.66 264.1 M564.6 283.1 L581.11 264.1 M567.05 283.1 L583.56 264.1 M569.5 283.1 L586.01 264.1 M571.95 283.1 L588.46 264.1 M574.4 283.1 L590.91 264.1 M576.85 283.1 L593.36 264.1 M579.3 283.1 L595.81 264.1" fill="none" stroke="#000" stroke-width="1.0"/>
<path class="k" d="M566.9 265.1 L577.5 265.1 L577.5 268 L575.9 273 L575.9 282.1 L566.9 282.1 Z"/>
<path class="t" d="M566.9 282.1 L566.9 298.1"/>
<path class="t" d="M573.7 274 L573.7 308"/>
<path class="k" d="M575.9 268 L575.9 469.3"/>
<path class="c" d="M563.8 290.3 L578 290.3"/>
<clipPath id="c6"><path d="M566.9 298.1 L565.5 301 L563.8 303 L558.5 306.7 L556.79 306.98 L554.46 307.36 L551.67 307.82 L548.56 308.32 L545.27 308.86 L541.96 309.41 L538.76 309.95 L535.82 310.46 L533.28 310.92 L531.3 311.3 L529.84 311.59 L528.74 311.81 L527.94 311.97 L527.38 312.09 L526.98 312.21 L526.69 312.35 L526.44 312.52 L526.17 312.75 L525.81 313.07 L525.3 313.5 L524.68 314.03 L524.04 314.65 L523.38 315.34 L522.72 316.08 L522.06 316.87 L521.42 317.69 L520.81 318.54 L520.22 319.4 L519.68 320.25 L519.2 321.1 L518.77 321.96 L518.38 322.86 L518.03 323.79 L517.72 324.73 L517.43 325.69 L517.16 326.64 L516.91 327.58 L516.67 328.49 L516.44 329.37 L516.2 330.2 L515.96 331.02 L515.73 331.85 L515.52 332.67 L515.31 333.49 L515.11 334.27 L514.93 335 L514.77 335.68 L514.63 336.28 L514.5 336.79 L514.4 337.2 L507.2 349 L507.2 353.2 L509.5 353.2 L522.6 343.6 L522.6 343.6 L522.57 343.08 L522.52 342.42 L522.45 341.64 L522.38 340.76 L522.31 339.81 L522.24 338.81 L522.19 337.78 L522.16 336.73 L522.16 335.7 L522.2 334.7 L522.26 333.69 L522.34 332.6 L522.44 331.48 L522.55 330.33 L522.69 329.18 L522.84 328.04 L523.02 326.94 L523.22 325.91 L523.45 324.95 L523.7 324.1 L523.98 323.35 L524.29 322.66 L524.62 322.05 L524.98 321.49 L525.36 320.98 L525.76 320.5 L526.18 320.05 L526.61 319.63 L527.05 319.21 L527.5 318.8 L527.87 318.42 L528.11 318.09 L528.29 317.8 L528.46 317.54 L528.69 317.3 L529.03 317.06 L529.55 316.8 L530.31 316.51 L531.38 316.18 L532.8 315.8 L534.69 315.35 L537.04 314.84 L539.75 314.28 L542.72 313.7 L545.83 313.11 L548.99 312.51 L552.09 311.94 L555.03 311.4 L557.7 310.92 L560 310.5 L562.02 310.14 L563.93 309.81 L565.71 309.52 L567.37 309.25 L568.9 309.02 L570.29 308.81 L571.54 308.63 L572.65 308.46 L573.6 308.32 L574.4 308.2 L573.7 298.1 Z"/></clipPath>
<path clip-path="url(#c6)" d="M454.9 354.2 L504.54 297.1 M457.35 354.2 L506.99 297.1 M459.8 354.2 L509.44 297.1 M462.25 354.2 L511.89 297.1 M464.7 354.2 L514.34 297.1 M467.15 354.2 L516.79 297.1 M469.6 354.2 L519.24 297.1 M472.05 354.2 L521.69 297.1 M474.5 354.2 L524.14 297.1 M476.95 354.2 L526.59 297.1 M479.4 354.2 L529.04 297.1 M481.85 354.2 L531.49 297.1 M484.3 354.2 L533.94 297.1 M486.75 354.2 L536.39 297.1 M489.2 354.2 L538.84 297.1 M491.65 354.2 L541.29 297.1 M494.1 354.2 L543.74 297.1 M496.55 354.2 L546.19 297.1 M499 354.2 L548.64 297.1 M501.45 354.2 L551.09 297.1 M503.9 354.2 L553.54 297.1 M506.35 354.2 L555.99 297.1 M508.8 354.2 L558.44 297.1 M511.25 354.2 L560.89 297.1 M513.7 354.2 L563.34 297.1 M516.15 354.2 L565.79 297.1 M518.6 354.2 L568.24 297.1 M521.05 354.2 L570.69 297.1 M523.5 354.2 L573.14 297.1 M525.95 354.2 L575.59 297.1 M528.4 354.2 L578.04 297.1 M530.85 354.2 L580.49 297.1 M533.3 354.2 L582.94 297.1 M535.75 354.2 L585.39 297.1 M538.2 354.2 L587.84 297.1 M540.65 354.2 L590.29 297.1 M543.1 354.2 L592.74 297.1 M545.55 354.2 L595.19 297.1 M548 354.2 L597.64 297.1 M550.45 354.2 L600.09 297.1 M552.9 354.2 L602.54 297.1 M555.35 354.2 L604.99 297.1 M557.8 354.2 L607.44 297.1 M560.25 354.2 L609.89 297.1 M562.7 354.2 L612.34 297.1 M565.15 354.2 L614.79 297.1 M567.6 354.2 L617.24 297.1 M570.05 354.2 L619.69 297.1 M572.5 354.2 L622.14 297.1 M574.95 354.2 L624.59 297.1 M577.4 354.2 L627.04 297.1" fill="none" stroke="#000" stroke-width="1.0"/>
<path class="k" d="M566.9 298.1 L565.5 301 L563.8 303 L558.5 306.7 L556.79 306.98 L554.46 307.36 L551.67 307.82 L548.56 308.32 L545.27 308.86 L541.96 309.41 L538.76 309.95 L535.82 310.46 L533.28 310.92 L531.3 311.3 L529.84 311.59 L528.74 311.81 L527.94 311.97 L527.38 312.09 L526.98 312.21 L526.69 312.35 L526.44 312.52 L526.17 312.75 L525.81 313.07 L525.3 313.5 L524.68 314.03 L524.04 314.65 L523.38 315.34 L522.72 316.08 L522.06 316.87 L521.42 317.69 L520.81 318.54 L520.22 319.4 L519.68 320.25 L519.2 321.1 L518.77 321.96 L518.38 322.86 L518.03 323.79 L517.72 324.73 L517.43 325.69 L517.16 326.64 L516.91 327.58 L516.67 328.49 L516.44 329.37 L516.2 330.2 L515.96 331.02 L515.73 331.85 L515.52 332.67 L515.31 333.49 L515.11 334.27 L514.93 335 L514.77 335.68 L514.63 336.28 L514.5 336.79 L514.4 337.2 L507.2 349 L507.2 353.2 L509.5 353.2 L522.6 343.6 L522.6 343.6 L522.57 343.08 L522.52 342.42 L522.45 341.64 L522.38 340.76 L522.31 339.81 L522.24 338.81 L522.19 337.78 L522.16 336.73 L522.16 335.7 L522.2 334.7 L522.26 333.69 L522.34 332.6 L522.44 331.48 L522.55 330.33 L522.69 329.18 L522.84 328.04 L523.02 326.94 L523.22 325.91 L523.45 324.95 L523.7 324.1 L523.98 323.35 L524.29 322.66 L524.62 322.05 L524.98 321.49 L525.36 320.98 L525.76 320.5 L526.18 320.05 L526.61 319.63 L527.05 319.21 L527.5 318.8 L527.87 318.42 L528.11 318.09 L528.29 317.8 L528.46 317.54 L528.69 317.3 L529.03 317.06 L529.55 316.8 L530.31 316.51 L531.38 316.18 L532.8 315.8 L534.69 315.35 L537.04 314.84 L539.75 314.28 L542.72 313.7 L545.83 313.11 L548.99 312.51 L552.09 311.94 L555.03 311.4 L557.7 310.92 L560 310.5 L562.02 310.14 L563.93 309.81 L565.71 309.52 L567.37 309.25 L568.9 309.02 L570.29 308.81 L571.54 308.63 L572.65 308.46 L573.6 308.32 L574.4 308.2 L573.7 298.1 Z"/>
<clipPath id="c7"><path d="M507.2 376.1 L507.2 377 L514.4 386.1 L514.45 386.62 L514.49 387.26 L514.55 388.02 L514.61 388.87 L514.68 389.81 L514.77 390.8 L514.87 391.84 L514.99 392.92 L515.13 394.01 L515.3 395.1 L515.48 396.2 L515.67 397.35 L515.86 398.52 L516.07 399.74 L516.31 400.99 L516.57 402.28 L516.86 403.61 L517.19 404.97 L517.57 406.37 L518 407.8 L518.47 409.29 L518.97 410.86 L519.51 412.48 L520.08 414.15 L520.69 415.84 L521.35 417.54 L522.04 419.23 L522.78 420.9 L523.57 422.53 L524.4 424.1 L525.29 425.64 L526.22 427.19 L527.2 428.73 L528.23 430.25 L529.29 431.75 L530.4 433.22 L531.55 434.64 L532.73 436.02 L533.95 437.34 L535.2 438.6 L536.51 439.8 L537.89 440.96 L539.33 442.08 L540.82 443.15 L542.33 444.18 L543.85 445.15 L545.37 446.07 L546.86 446.94 L548.31 447.75 L549.7 448.5 L551.08 449.17 L552.49 449.76 L553.9 450.27 L555.3 450.73 L556.68 451.14 L558 451.52 L559.25 451.88 L560.41 452.24 L561.47 452.61 L562.4 453 L563.2 453.42 L563.9 453.85 L564.49 454.29 L565.01 454.72 L565.44 455.13 L565.82 455.52 L566.14 455.89 L566.42 456.21 L566.67 456.48 L566.9 456.7 L566.9 469.3 L575.9 469.3 L575.9 450.3 L575.9 450.3 L574.88 450.05 L573.56 449.76 L572 449.43 L570.25 449.04 L568.37 448.62 L566.4 448.15 L564.41 447.63 L562.44 447.07 L560.55 446.46 L558.8 445.8 L557.11 445.09 L555.39 444.33 L553.65 443.52 L551.92 442.66 L550.21 441.76 L548.53 440.81 L546.9 439.83 L545.34 438.82 L543.87 437.77 L542.5 436.7 L541.23 435.6 L540.04 434.46 L538.92 433.29 L537.87 432.09 L536.87 430.85 L535.93 429.57 L535.03 428.26 L534.16 426.91 L533.32 425.53 L532.5 424.1 L531.7 422.6 L530.95 421.02 L530.22 419.37 L529.54 417.67 L528.89 415.96 L528.28 414.24 L527.71 412.54 L527.17 410.89 L526.67 409.3 L526.2 407.8 L525.79 406.38 L525.44 405 L525.15 403.67 L524.9 402.37 L524.68 401.11 L524.47 399.87 L524.26 398.66 L524.04 397.46 L523.79 396.28 L523.5 395.1 L523.16 393.89 L522.78 392.65 L522.37 391.38 L521.95 390.12 L521.53 388.91 L521.12 387.75 L520.74 386.69 L520.4 385.74 L520.12 384.93 L519.9 384.3 L509.5 376.1 Z"/></clipPath>
<path clip-path="url(#c7)" d="M421.08 470.3 L503.83 375.1 M423.53 470.3 L506.28 375.1 M425.98 470.3 L508.73 375.1 M428.43 470.3 L511.18 375.1 M430.88 470.3 L513.63 375.1 M433.33 470.3 L516.08 375.1 M435.78 470.3 L518.53 375.1 M438.23 470.3 L520.98 375.1 M440.68 470.3 L523.43 375.1 M443.13 470.3 L525.88 375.1 M445.58 470.3 L528.33 375.1 M448.03 470.3 L530.78 375.1 M450.48 470.3 L533.23 375.1 M452.93 470.3 L535.68 375.1 M455.38 470.3 L538.13 375.1 M457.83 470.3 L540.58 375.1 M460.28 470.3 L543.03 375.1 M462.73 470.3 L545.48 375.1 M465.18 470.3 L547.93 375.1 M467.63 470.3 L550.38 375.1 M470.08 470.3 L552.83 375.1 M472.53 470.3 L555.28 375.1 M474.98 470.3 L557.73 375.1 M477.43 470.3 L560.18 375.1 M479.88 470.3 L562.63 375.1 M482.33 470.3 L565.08 375.1 M484.78 470.3 L567.53 375.1 M487.23 470.3 L569.98 375.1 M489.68 470.3 L572.43 375.1 M492.13 470.3 L574.88 375.1 M494.58 470.3 L577.33 375.1 M497.03 470.3 L579.78 375.1 M499.48 470.3 L582.23 375.1 M501.93 470.3 L584.68 375.1 M504.38 470.3 L587.13 375.1 M506.83 470.3 L589.58 375.1 M509.28 470.3 L592.03 375.1 M511.73 470.3 L594.48 375.1 M514.18 470.3 L596.93 375.1 M516.63 470.3 L599.38 375.1 M519.08 470.3 L601.83 375.1 M521.53 470.3 L604.28 375.1 M523.98 470.3 L606.73 375.1 M526.43 470.3 L609.18 375.1 M528.88 470.3 L611.63 375.1 M531.33 470.3 L614.08 375.1 M533.78 470.3 L616.53 375.1 M536.23 470.3 L618.98 375.1 M538.68 470.3 L621.43 375.1 M541.13 470.3 L623.88 375.1 M543.58 470.3 L626.33 375.1 M546.03 470.3 L628.78 375.1 M548.48 470.3 L631.23 375.1 M550.93 470.3 L633.68 375.1 M553.38 470.3 L636.13 375.1 M555.83 470.3 L638.58 375.1 M558.28 470.3 L641.03 375.1 M560.73 470.3 L643.48 375.1 M563.18 470.3 L645.93 375.1 M565.63 470.3 L648.38 375.1 M568.08 470.3 L650.83 375.1 M570.53 470.3 L653.28 375.1 M572.98 470.3 L655.73 375.1 M575.43 470.3 L658.18 375.1 M577.88 470.3 L660.63 375.1" fill="none" stroke="#000" stroke-width="1.0"/>
<path class="k" d="M507.2 376.1 L507.2 377 L514.4 386.1 L514.45 386.62 L514.49 387.26 L514.55 388.02 L514.61 388.87 L514.68 389.81 L514.77 390.8 L514.87 391.84 L514.99 392.92 L515.13 394.01 L515.3 395.1 L515.48 396.2 L515.67 397.35 L515.86 398.52 L516.07 399.74 L516.31 400.99 L516.57 402.28 L516.86 403.61 L517.19 404.97 L517.57 406.37 L518 407.8 L518.47 409.29 L518.97 410.86 L519.51 412.48 L520.08 414.15 L520.69 415.84 L521.35 417.54 L522.04 419.23 L522.78 420.9 L523.57 422.53 L524.4 424.1 L525.29 425.64 L526.22 427.19 L527.2 428.73 L528.23 430.25 L529.29 431.75 L530.4 433.22 L531.55 434.64 L532.73 436.02 L533.95 437.34 L535.2 438.6 L536.51 439.8 L537.89 440.96 L539.33 442.08 L540.82 443.15 L542.33 444.18 L543.85 445.15 L545.37 446.07 L546.86 446.94 L548.31 447.75 L549.7 448.5 L551.08 449.17 L552.49 449.76 L553.9 450.27 L555.3 450.73 L556.68 451.14 L558 451.52 L559.25 451.88 L560.41 452.24 L561.47 452.61 L562.4 453 L563.2 453.42 L563.9 453.85 L564.49 454.29 L565.01 454.72 L565.44 455.13 L565.82 455.52 L566.14 455.89 L566.42 456.21 L566.67 456.48 L566.9 456.7 L566.9 469.3 L575.9 469.3 L575.9 450.3 L575.9 450.3 L574.88 450.05 L573.56 449.76 L572 449.43 L570.25 449.04 L568.37 448.62 L566.4 448.15 L564.41 447.63 L562.44 447.07 L560.55 446.46 L558.8 445.8 L557.11 445.09 L555.39 444.33 L553.65 443.52 L551.92 442.66 L550.21 441.76 L548.53 440.81 L546.9 439.83 L545.34 438.82 L543.87 437.77 L542.5 436.7 L541.23 435.6 L540.04 434.46 L538.92 433.29 L537.87 432.09 L536.87 430.85 L535.93 429.57 L535.03 428.26 L534.16 426.91 L533.32 425.53 L532.5 424.1 L531.7 422.6 L530.95 421.02 L530.22 419.37 L529.54 417.67 L528.89 415.96 L528.28 414.24 L527.71 412.54 L527.17 410.89 L526.67 409.3 L526.2 407.8 L525.79 406.38 L525.44 405 L525.15 403.67 L524.9 402.37 L524.68 401.11 L524.47 399.87 L524.26 398.66 L524.04 397.46 L523.79 396.28 L523.5 395.1 L523.16 393.89 L522.78 392.65 L522.37 391.38 L521.95 390.12 L521.53 388.91 L521.12 387.75 L520.74 386.69 L520.4 385.74 L520.12 384.93 L519.9 384.3 L509.5 376.1 Z"/>
<path class="k" d="M507.2 353.2 L507.2 376.1"/>
<path class="t" d="M509.5 353.2 L509.5 376.1"/>
<path class="t" d="M507.2 353.2 L523 353.2"/>
<path class="t" d="M507.2 376.1 L523 376.1"/>
<path class="t" d="M519 343.6 L519 385"/>
<path class="t" d="M523.1 334 L523.11 335.53 L523.12 337.48 L523.12 339.77 L523.13 342.35 L523.14 345.14 L523.16 348.09 L523.18 351.11 L523.21 354.15 L523.25 357.13 L523.3 360 L523.35 362.88 L523.4 365.9 L523.44 369.03 L523.49 372.21 L523.56 375.39 L523.63 378.54 L523.73 381.58 L523.86 384.49 L524.01 387.22 L524.2 389.7 L524.42 391.93 L524.66 393.96 L524.91 395.81 L525.19 397.53 L525.5 399.14 L525.83 400.7 L526.2 402.22 L526.6 403.76 L527.03 405.34 L527.5 407 L528 408.73 L528.54 410.5 L529.1 412.28 L529.7 414.06 L530.33 415.83 L530.99 417.57 L531.69 419.28 L532.42 420.92 L533.19 422.5 L534 424 L534.83 425.42 L535.69 426.78 L536.57 428.08 L537.48 429.33 L538.44 430.53 L539.44 431.69 L540.49 432.81 L541.59 433.9 L542.76 434.96 L544 436 L545.33 437.01 L546.75 437.99 L548.25 438.93 L549.8 439.84 L551.41 440.72 L553.04 441.56 L554.68 442.35 L556.31 443.11 L557.93 443.83 L559.5 444.5 L561.12 445.13 L562.85 445.73 L564.64 446.29 L566.44 446.8 L568.22 447.28 L569.92 447.72 L571.49 448.11 L572.89 448.45 L574.08 448.75 L575 449"/>
<path class="c" d="M504.5 364.9 L521.7 364.9"/>
<path class="m" d="M566.9 297.2 L566.07 297.44 L565.03 297.74 L563.81 298.09 L562.43 298.49 L560.93 298.92 L559.33 299.38 L557.66 299.87 L555.95 300.37 L554.22 300.88 L552.5 301.4 L550.69 301.94 L548.7 302.54 L546.6 303.16 L544.42 303.81 L542.22 304.47 L540.06 305.13 L537.98 305.78 L536.04 306.4 L534.3 306.97 L532.8 307.5 L531.52 307.99 L530.4 308.47 L529.42 308.93 L528.56 309.37 L527.82 309.78 L527.17 310.16 L526.61 310.51 L526.12 310.82 L525.69 311.08 L525.3 311.3"/>
<path class="t" d="M564.6 302.2 L563.88 302.38 L562.96 302.6 L561.87 302.87 L560.65 303.17 L559.33 303.49 L557.95 303.83 L556.54 304.18 L555.14 304.53 L553.78 304.87 L552.5 305.2 L551.21 305.53 L549.83 305.89 L548.39 306.27 L546.93 306.66 L545.49 307.04 L544.12 307.4 L542.84 307.74 L541.71 308.05 L540.75 308.3 L540 308.5"/>
<path class="t" d="M565.1 310.5 L565.1 398.8 L565.1 398.8 L565.24 400.3 L565.38 402.23 L565.54 404.5 L565.72 407.06 L565.94 409.81 L566.19 412.7 L566.5 415.65 L566.86 418.58 L567.3 421.42 L567.8 424.1 L568.43 426.8 L569.22 429.7 L570.11 432.72 L571.08 435.77 L572.07 438.78 L573.05 441.66 L573.97 444.34 L574.8 446.72 L575.49 448.74 L576 450.3"/>
<path class="t" d="M580.4 276.8 L628 276.8"/>
<path class="t" d="M580.4 308.7 L628 308.7"/>
<path class="t" d="M626.1 276.8 L626.1 308.7"/>
<path class="a" d="M626.1 276.8 L627.45 286.3 L624.75 286.3 Z"/>
<path class="a" d="M626.1 308.7 L624.75 299.2 L627.45 299.2 Z"/>
<g transform="translate(623 303.7) rotate(-90)">
<text x="0" y="0" font-size="17" textLength="15.1" lengthAdjust="spacingAndGlyphs">70</text>
</g>
<path class="t" d="M608.5 308.7 L608.5 451.2"/>
<path class="a" d="M608.5 308.7 L609.85 318.2 L607.15 318.2 Z"/>
<path class="a" d="M608.5 451.2 L607.15 441.7 L609.85 441.7 Z"/>
<path class="t" d="M580.4 451.2 L611 451.2"/>
<g transform="translate(605.5 395.3) rotate(-90)">
<text x="0" y="0" font-size="17" textLength="23.8" lengthAdjust="spacingAndGlyphs">314</text>
</g>
<path class="t" d="M523.5 372 L575.9 372"/>
<path class="a" d="M523.5 372 L533 370.65 L533 373.35 Z"/>
<path class="a" d="M575.9 372 L566.4 373.35 L566.4 370.65 Z"/>
<text x="533.4" y="368.5" font-size="17" textLength="22.6" lengthAdjust="spacingAndGlyphs">119</text>
<path class="t" d="M504.5 454.5 L563.3 454.5"/>
<path class="t" d="M504.5 469.3 L563.3 469.3"/>
<path class="t" d="M507.5 400.6 L507.5 487.3"/>
<path class="a" d="M507.5 454.5 L506.15 445 L508.85 445 Z"/>
<path class="a" d="M507.5 469.3 L508.85 478.8 L506.15 478.8 Z"/>
<g transform="translate(503.6 433.1) rotate(-90)">
<text x="0" y="0" font-size="17" textLength="16.73" lengthAdjust="spacingAndGlyphs">32</text>
<text x="17.25" y="-3.4" font-size="12.58" textLength="12.55" lengthAdjust="spacingAndGlyphs">±2</text>
</g>
<path class="t" d="M567.1 473.5 L567.1 499.4"/>
<path class="t" d="M575.9 473.5 L575.9 499.4"/>
<path class="t" d="M549 496.1 L631.4 496.1"/>
<path class="a" d="M567.1 496.1 L557.6 497.45 L557.6 494.75 Z"/>
<path class="a" d="M575.9 496.1 L585.4 494.75 L585.4 497.45 Z"/>
<text x="597.5" y="492.6" font-size="17" textLength="16.73" lengthAdjust="spacingAndGlyphs">20</text>
<text x="614.75" y="489.2" font-size="12.58" textLength="12.55" lengthAdjust="spacingAndGlyphs">±2</text>
<rect class="k" x="54.5" y="579.5" width="294.25" height="203.8"/>
<path class="k" d="M201.75 593.6 L128 593.6 L127.61 593.68 L127.11 593.77 L126.52 593.88 L125.86 594 L125.14 594.13 L124.4 594.28 L123.64 594.44 L122.89 594.61 L122.17 594.8 L121.5 595 L120.87 595.22 L120.24 595.45 L119.62 595.71 L119.01 595.98 L118.39 596.26 L117.78 596.54 L117.15 596.83 L116.51 597.13 L115.87 597.42 L115.2 597.7 L114.52 597.98 L113.82 598.26 L113.12 598.55 L112.4 598.83 L111.68 599.12 L110.94 599.41 L110.21 599.7 L109.47 600 L108.74 600.3 L108 600.6 L107.23 600.92 L106.4 601.27 L105.54 601.64 L104.66 602.01 L103.8 602.38 L102.97 602.74 L102.21 603.07 L101.52 603.36 L100.95 603.61 L100.5 603.8 L100.5 603.8 L99.49 604.22 L98.67 604.36 L98.02 604.2 L97.57 603.76 L97.29 603.02 L97.2 602 L97.2 595 L97.2 595 L97.06 593.59 L96.64 592.44 L95.95 591.55 L94.98 590.91 L93.73 590.53 L92.2 590.4 L71 590.4 L71 590.4 L69.47 590.53 L68.22 590.91 L67.25 591.55 L66.56 592.44 L66.14 593.59 L66 595 L66 601.5 L66.07 601.74 L66.15 602.05 L66.23 602.42 L66.32 602.84 L66.44 603.28 L66.58 603.74 L66.75 604.21 L66.95 604.67 L67.2 605.1 L67.5 605.5 L67.86 605.87 L68.29 606.22 L68.78 606.57 L69.3 606.91 L69.85 607.25 L70.41 607.59 L70.97 607.93 L71.51 608.28 L72.03 608.63 L72.5 609 L72.95 609.38 L73.4 609.76 L73.85 610.15 L74.3 610.54 L74.72 610.94 L75.13 611.34 L75.51 611.75 L75.85 612.16 L76.15 612.58 L76.4 613 L76.61 613.43 L76.78 613.86 L76.92 614.3 L77.03 614.74 L77.1 615.19 L77.14 615.64 L77.15 616.1 L77.13 616.56 L77.08 617.03 L77 617.5 L76.88 617.99 L76.73 618.5 L76.54 619.02 L76.32 619.55 L76.07 620.08 L75.79 620.61 L75.49 621.12 L75.18 621.61 L74.84 622.07 L74.5 622.5 L74.13 622.89 L73.71 623.25 L73.26 623.59 L72.78 623.9 L72.29 624.21 L71.8 624.5 L71.32 624.79 L70.85 625.08 L70.41 625.38 L70 625.7 L69.62 626.02 L69.24 626.33 L68.88 626.63 L68.53 626.93 L68.19 627.24 L67.87 627.55 L67.56 627.88 L67.28 628.23 L67.03 628.6 L66.8 629 L66.6 629.45 L66.43 629.97 L66.28 630.53 L66.16 631.12 L66.05 631.71 L65.96 632.28 L65.88 632.81 L65.82 633.29 L65.76 633.69 L65.7 634 L65.7 716 L65.76 716.34 L65.82 716.78 L65.88 717.32 L65.96 717.91 L66.05 718.54 L66.16 719.19 L66.28 719.84 L66.43 720.45 L66.6 721.01 L66.8 721.5 L67.03 721.92 L67.28 722.31 L67.55 722.68 L67.84 723.02 L68.16 723.34 L68.49 723.64 L68.84 723.94 L69.21 724.23 L69.6 724.51 L70 724.8 L70.44 725.08 L70.93 725.34 L71.45 725.59 L72 725.82 L72.56 726.06 L73.11 726.29 L73.64 726.52 L74.14 726.77 L74.6 727.03 L75 727.3 L75.35 727.59 L75.67 727.89 L75.95 728.2 L76.22 728.52 L76.45 728.84 L76.66 729.16 L76.85 729.5 L77.02 729.83 L77.17 730.16 L77.3 730.5 L77.41 730.84 L77.5 731.17 L77.57 731.51 L77.62 731.85 L77.65 732.2 L77.66 732.55 L77.65 732.9 L77.62 733.26 L77.57 733.63 L77.5 734 L77.43 734.39 L77.35 734.79 L77.26 735.2 L77.15 735.62 L77.02 736.04 L76.87 736.46 L76.67 736.87 L76.43 737.27 L76.14 737.65 L75.8 738 L75.37 738.33 L74.86 738.64 L74.27 738.93 L73.64 739.21 L72.98 739.48 L72.32 739.74 L71.66 740.01 L71.05 740.27 L70.49 740.53 L70 740.8 L69.58 741.07 L69.19 741.32 L68.82 741.56 L68.49 741.8 L68.19 742.04 L67.91 742.3 L67.65 742.56 L67.41 742.85 L67.2 743.16 L67 743.5 L66.83 743.9 L66.69 744.36 L66.57 744.86 L66.48 745.39 L66.41 745.92 L66.36 746.44 L66.31 746.92 L66.27 747.36 L66.24 747.72 L66.2 748 L66.2 771.7 L66.2 771.7 L66.33 773.11 L66.71 774.26 L67.35 775.15 L68.24 775.79 L69.39 776.17 L70.8 776.3 L177.3 776.3 L177.3 776.3 L178.83 776.16 L180.08 775.74 L181.05 775.05 L181.74 774.08 L182.16 772.83 L182.3 771.3 L182.3 749 L182.3 749 L182.37 748.24 L182.58 747.61 L182.93 747.12 L183.41 746.78 L184.04 746.57 L184.8 746.5 L201.75 746.5"/>
<path class="k" d="M201.75 593.6 L275.5 593.6 L275.89 593.68 L276.39 593.77 L276.98 593.88 L277.64 594 L278.36 594.13 L279.1 594.28 L279.86 594.44 L280.61 594.61 L281.33 594.8 L282 595 L282.63 595.22 L283.26 595.45 L283.88 595.71 L284.49 595.98 L285.11 596.26 L285.72 596.54 L286.35 596.83 L286.99 597.13 L287.63 597.42 L288.3 597.7 L288.98 597.98 L289.68 598.26 L290.38 598.55 L291.1 598.83 L291.82 599.12 L292.56 599.41 L293.29 599.7 L294.03 600 L294.76 600.3 L295.5 600.6 L296.27 600.92 L297.1 601.27 L297.96 601.64 L298.84 602.01 L299.7 602.38 L300.53 602.74 L301.29 603.07 L301.98 603.36 L302.55 603.61 L303 603.8 L303 603.8 L304.01 604.22 L304.83 604.36 L305.48 604.2 L305.93 603.76 L306.21 603.02 L306.3 602 L306.3 595 L306.3 595 L306.44 593.59 L306.86 592.44 L307.55 591.55 L308.52 590.91 L309.77 590.53 L311.3 590.4 L332.5 590.4 L332.5 590.4 L334.03 590.53 L335.28 590.91 L336.25 591.55 L336.94 592.44 L337.36 593.59 L337.5 595 L337.5 601.5 L337.43 601.74 L337.35 602.05 L337.27 602.42 L337.18 602.84 L337.06 603.28 L336.92 603.74 L336.75 604.21 L336.55 604.67 L336.3 605.1 L336 605.5 L335.64 605.87 L335.21 606.22 L334.72 606.57 L334.2 606.91 L333.65 607.25 L333.09 607.59 L332.53 607.93 L331.99 608.28 L331.47 608.63 L331 609 L330.55 609.38 L330.1 609.76 L329.65 610.15 L329.2 610.54 L328.77 610.94 L328.37 611.34 L327.99 611.75 L327.65 612.16 L327.35 612.58 L327.1 613 L326.89 613.43 L326.72 613.86 L326.58 614.3 L326.47 614.74 L326.4 615.19 L326.36 615.64 L326.35 616.1 L326.37 616.56 L326.42 617.03 L326.5 617.5 L326.62 617.99 L326.77 618.5 L326.96 619.02 L327.18 619.55 L327.43 620.08 L327.71 620.61 L328.01 621.12 L328.32 621.61 L328.66 622.07 L329 622.5 L329.37 622.89 L329.79 623.25 L330.24 623.59 L330.72 623.9 L331.21 624.21 L331.7 624.5 L332.18 624.79 L332.65 625.08 L333.09 625.38 L333.5 625.7 L333.88 626.02 L334.26 626.33 L334.62 626.63 L334.97 626.93 L335.31 627.24 L335.63 627.55 L335.94 627.88 L336.22 628.23 L336.47 628.6 L336.7 629 L336.9 629.45 L337.07 629.97 L337.22 630.53 L337.34 631.12 L337.45 631.71 L337.54 632.28 L337.62 632.81 L337.68 633.29 L337.74 633.69 L337.8 634 L337.8 716 L337.74 716.34 L337.68 716.78 L337.62 717.32 L337.54 717.91 L337.45 718.54 L337.34 719.19 L337.22 719.84 L337.07 720.45 L336.9 721.01 L336.7 721.5 L336.47 721.92 L336.22 722.31 L335.95 722.68 L335.66 723.02 L335.34 723.34 L335.01 723.64 L334.66 723.94 L334.29 724.23 L333.9 724.51 L333.5 724.8 L333.06 725.08 L332.57 725.34 L332.05 725.59 L331.5 725.82 L330.94 726.06 L330.39 726.29 L329.86 726.52 L329.36 726.77 L328.9 727.03 L328.5 727.3 L328.15 727.59 L327.83 727.89 L327.55 728.2 L327.28 728.52 L327.05 728.84 L326.84 729.16 L326.65 729.5 L326.48 729.83 L326.33 730.16 L326.2 730.5 L326.09 730.84 L326 731.17 L325.93 731.51 L325.88 731.85 L325.85 732.2 L325.84 732.55 L325.85 732.9 L325.88 733.26 L325.93 733.63 L326 734 L326.07 734.39 L326.15 734.79 L326.24 735.2 L326.35 735.62 L326.48 736.04 L326.63 736.46 L326.83 736.87 L327.07 737.27 L327.36 737.65 L327.7 738 L328.13 738.33 L328.64 738.64 L329.23 738.93 L329.86 739.21 L330.52 739.48 L331.18 739.74 L331.84 740.01 L332.45 740.27 L333.01 740.53 L333.5 740.8 L333.92 741.07 L334.31 741.32 L334.68 741.56 L335.01 741.8 L335.31 742.04 L335.59 742.3 L335.85 742.56 L336.09 742.85 L336.3 743.16 L336.5 743.5 L336.67 743.9 L336.81 744.36 L336.93 744.86 L337.02 745.39 L337.09 745.92 L337.14 746.44 L337.19 746.92 L337.23 747.36 L337.26 747.72 L337.3 748 L337.3 771.7 L337.3 771.7 L337.17 773.11 L336.79 774.26 L336.15 775.15 L335.26 775.79 L334.11 776.17 L332.7 776.3 L226.2 776.3 L226.2 776.3 L224.67 776.16 L223.42 775.74 L222.45 775.05 L221.76 774.08 L221.34 772.83 L221.2 771.3 L221.2 749 L221.2 749 L221.13 748.24 L220.92 747.61 L220.57 747.12 L220.09 746.78 L219.46 746.57 L218.7 746.5 L201.75 746.5"/>
<path class="k" d="M201.75 596.5 L129 596.5 L128.58 596.56 L128.04 596.64 L127.41 596.72 L126.69 596.82 L125.92 596.93 L125.12 597.05 L124.31 597.19 L123.5 597.34 L122.72 597.51 L122 597.7 L121.31 597.91 L120.63 598.14 L119.96 598.39 L119.28 598.66 L118.61 598.94 L117.94 599.23 L117.26 599.53 L116.58 599.82 L115.9 600.12 L115.2 600.4 L114.5 600.68 L113.8 600.96 L113.09 601.24 L112.39 601.53 L111.68 601.81 L110.96 602.1 L110.23 602.39 L109.5 602.69 L108.75 602.99 L108 603.3 L107.2 603.63 L106.32 603.99 L105.41 604.36 L104.47 604.75 L103.55 605.13 L102.66 605.5 L101.84 605.84 L101.1 606.14 L100.48 606.4 L100 606.6 L100 606.6 L98.7 607.1 L97.48 607.32 L96.33 607.27 L95.24 606.96 L94.24 606.36 L93.3 605.5 L92.2 603.5 L91 597.6 L91 597.6 L90.82 596.93 L90.53 596.38 L90.15 595.95 L89.67 595.64 L89.08 595.46 L88.4 595.4 L73 595.4 L73 595.4 L72.39 595.46 L71.89 595.62 L71.5 595.9 L71.22 596.29 L71.06 596.79 L71 597.4 L71 602 L71.08 602.21 L71.17 602.5 L71.27 602.83 L71.38 603.21 L71.51 603.61 L71.66 604.02 L71.83 604.43 L72.03 604.82 L72.25 605.18 L72.5 605.5 L72.79 605.78 L73.12 606.03 L73.49 606.27 L73.88 606.49 L74.29 606.7 L74.71 606.91 L75.13 607.12 L75.54 607.33 L75.93 607.56 L76.3 607.8 L76.65 608.05 L77.01 608.29 L77.36 608.54 L77.71 608.79 L78.06 609.04 L78.39 609.31 L78.7 609.58 L78.99 609.87 L79.26 610.18 L79.5 610.5 L79.71 610.84 L79.91 611.19 L80.08 611.56 L80.23 611.93 L80.37 612.33 L80.49 612.73 L80.59 613.15 L80.67 613.58 L80.74 614.03 L80.8 614.5 L80.84 615 L80.88 615.53 L80.9 616.09 L80.9 616.66 L80.89 617.25 L80.86 617.84 L80.8 618.41 L80.73 618.97 L80.63 619.5 L80.5 620 L80.34 620.46 L80.16 620.91 L79.94 621.33 L79.71 621.74 L79.45 622.14 L79.18 622.52 L78.89 622.9 L78.6 623.27 L78.3 623.64 L78 624 L77.69 624.36 L77.35 624.71 L76.99 625.04 L76.62 625.38 L76.25 625.7 L75.88 626.02 L75.51 626.34 L75.15 626.66 L74.81 626.98 L74.5 627.3 L74.2 627.62 L73.91 627.93 L73.62 628.23 L73.35 628.52 L73.08 628.82 L72.83 629.13 L72.59 629.45 L72.38 629.78 L72.18 630.13 L72 630.5 L71.85 630.92 L71.72 631.39 L71.61 631.9 L71.52 632.42 L71.44 632.95 L71.38 633.46 L71.33 633.94 L71.28 634.37 L71.24 634.73 L71.2 635 L71.2 714 L71.23 714.27 L71.26 714.63 L71.29 715.06 L71.33 715.54 L71.37 716.05 L71.43 716.58 L71.5 717.1 L71.58 717.61 L71.68 718.08 L71.8 718.5 L71.93 718.87 L72.07 719.21 L72.21 719.54 L72.37 719.84 L72.54 720.14 L72.74 720.44 L72.96 720.74 L73.2 721.04 L73.48 721.36 L73.8 721.7 L74.17 722.05 L74.61 722.42 L75.09 722.79 L75.61 723.17 L76.14 723.55 L76.68 723.94 L77.2 724.33 L77.68 724.72 L78.12 725.11 L78.5 725.5 L78.82 725.89 L79.12 726.29 L79.38 726.69 L79.62 727.09 L79.83 727.49 L80.02 727.89 L80.19 728.29 L80.34 728.7 L80.48 729.1 L80.6 729.5 L80.71 729.9 L80.79 730.29 L80.86 730.67 L80.9 731.06 L80.93 731.45 L80.94 731.84 L80.93 732.24 L80.91 732.65 L80.86 733.07 L80.8 733.5 L80.72 733.95 L80.64 734.42 L80.53 734.9 L80.41 735.39 L80.28 735.89 L80.11 736.38 L79.93 736.88 L79.72 737.37 L79.47 737.84 L79.2 738.3 L78.88 738.75 L78.51 739.2 L78.09 739.64 L77.65 740.08 L77.19 740.51 L76.72 740.94 L76.25 741.35 L75.8 741.75 L75.38 742.13 L75 742.5 L74.64 742.84 L74.29 743.16 L73.96 743.46 L73.63 743.74 L73.31 744.01 L73.01 744.29 L72.73 744.56 L72.47 744.86 L72.22 745.16 L72 745.5 L71.8 745.88 L71.63 746.3 L71.47 746.75 L71.33 747.22 L71.21 747.69 L71.11 748.14 L71.02 748.56 L70.93 748.94 L70.86 749.26 L70.8 749.5 L70.8 769.2 L70.8 769.2 L70.88 770.12 L71.13 770.87 L71.55 771.45 L72.13 771.87 L72.88 772.12 L73.8 772.2 L171.5 772.2 L171.5 772.2 L172.45 772.12 L173.22 771.87 L173.83 771.45 L174.26 770.87 L174.51 770.12 L174.6 769.2 L174.6 748.3"/>
<path class="k" d="M201.75 596.5 L274.5 596.5 L274.92 596.56 L275.46 596.64 L276.09 596.72 L276.81 596.82 L277.57 596.93 L278.38 597.05 L279.19 597.19 L280 597.34 L280.78 597.51 L281.5 597.7 L282.19 597.91 L282.87 598.14 L283.54 598.39 L284.22 598.66 L284.89 598.94 L285.56 599.23 L286.24 599.53 L286.92 599.82 L287.6 600.12 L288.3 600.4 L289 600.68 L289.7 600.96 L290.41 601.24 L291.11 601.53 L291.82 601.81 L292.54 602.1 L293.27 602.39 L294 602.69 L294.75 602.99 L295.5 603.3 L296.3 603.63 L297.18 603.99 L298.09 604.36 L299.03 604.75 L299.95 605.13 L300.84 605.5 L301.66 605.84 L302.4 606.14 L303.02 606.4 L303.5 606.6 L303.5 606.6 L304.8 607.1 L306.02 607.32 L307.18 607.27 L308.26 606.96 L309.26 606.36 L310.2 605.5 L311.3 603.5 L312.5 597.6 L312.5 597.6 L312.68 596.93 L312.97 596.38 L313.35 595.95 L313.83 595.64 L314.42 595.46 L315.1 595.4 L330.5 595.4 L330.5 595.4 L331.11 595.46 L331.61 595.62 L332 595.9 L332.28 596.29 L332.44 596.79 L332.5 597.4 L332.5 602 L332.42 602.21 L332.33 602.5 L332.23 602.83 L332.12 603.21 L331.99 603.61 L331.84 604.02 L331.67 604.43 L331.47 604.82 L331.25 605.18 L331 605.5 L330.71 605.78 L330.38 606.03 L330.01 606.27 L329.62 606.49 L329.21 606.7 L328.79 606.91 L328.37 607.12 L327.96 607.33 L327.57 607.56 L327.2 607.8 L326.85 608.05 L326.49 608.29 L326.14 608.54 L325.79 608.79 L325.44 609.04 L325.11 609.31 L324.8 609.58 L324.51 609.87 L324.24 610.18 L324 610.5 L323.79 610.84 L323.59 611.19 L323.42 611.56 L323.27 611.93 L323.13 612.33 L323.01 612.73 L322.91 613.15 L322.83 613.58 L322.76 614.03 L322.7 614.5 L322.66 615 L322.62 615.53 L322.6 616.09 L322.6 616.66 L322.61 617.25 L322.64 617.84 L322.7 618.41 L322.77 618.97 L322.87 619.5 L323 620 L323.16 620.46 L323.34 620.91 L323.56 621.33 L323.79 621.74 L324.05 622.14 L324.32 622.52 L324.61 622.9 L324.9 623.27 L325.2 623.64 L325.5 624 L325.81 624.36 L326.15 624.71 L326.51 625.04 L326.88 625.38 L327.25 625.7 L327.62 626.02 L327.99 626.34 L328.35 626.66 L328.69 626.98 L329 627.3 L329.3 627.62 L329.59 627.93 L329.88 628.23 L330.15 628.52 L330.42 628.82 L330.67 629.13 L330.91 629.45 L331.12 629.78 L331.32 630.13 L331.5 630.5 L331.65 630.92 L331.78 631.39 L331.89 631.9 L331.98 632.42 L332.06 632.95 L332.12 633.46 L332.17 633.94 L332.22 634.37 L332.26 634.73 L332.3 635 L332.3 714 L332.27 714.27 L332.24 714.63 L332.21 715.06 L332.17 715.54 L332.12 716.05 L332.07 716.58 L332 717.1 L331.92 717.61 L331.82 718.08 L331.7 718.5 L331.57 718.87 L331.43 719.21 L331.29 719.54 L331.13 719.84 L330.96 720.14 L330.76 720.44 L330.54 720.74 L330.3 721.04 L330.02 721.36 L329.7 721.7 L329.33 722.05 L328.89 722.42 L328.41 722.79 L327.89 723.17 L327.36 723.55 L326.82 723.94 L326.3 724.33 L325.82 724.72 L325.38 725.11 L325 725.5 L324.68 725.89 L324.38 726.29 L324.12 726.69 L323.88 727.09 L323.67 727.49 L323.48 727.89 L323.31 728.29 L323.16 728.7 L323.02 729.1 L322.9 729.5 L322.79 729.9 L322.71 730.29 L322.64 730.67 L322.6 731.06 L322.57 731.45 L322.56 731.84 L322.57 732.24 L322.59 732.65 L322.64 733.07 L322.7 733.5 L322.78 733.95 L322.86 734.42 L322.97 734.9 L323.09 735.39 L323.23 735.89 L323.39 736.38 L323.57 736.88 L323.78 737.37 L324.03 737.84 L324.3 738.3 L324.62 738.75 L324.99 739.2 L325.41 739.64 L325.85 740.08 L326.31 740.51 L326.78 740.94 L327.25 741.35 L327.7 741.75 L328.12 742.13 L328.5 742.5 L328.86 742.84 L329.21 743.16 L329.54 743.46 L329.87 743.74 L330.19 744.01 L330.49 744.29 L330.77 744.56 L331.03 744.86 L331.28 745.16 L331.5 745.5 L331.7 745.88 L331.87 746.3 L332.03 746.75 L332.17 747.22 L332.29 747.69 L332.39 748.14 L332.48 748.56 L332.57 748.94 L332.64 749.26 L332.7 749.5 L332.7 769.2 L332.7 769.2 L332.62 770.12 L332.37 770.87 L331.95 771.45 L331.37 771.87 L330.62 772.12 L329.7 772.2 L232 772.2 L232 772.2 L231.05 772.12 L230.28 771.87 L229.67 771.45 L229.24 770.87 L228.99 770.12 L228.9 769.2 L228.9 748.3"/>
<path class="m" d="M174.6 748.2 L173.4 748.23 L171.81 748.27 L169.91 748.32 L167.8 748.37 L165.54 748.43 L163.22 748.49 L160.92 748.55 L158.73 748.6 L156.73 748.66 L155 748.7 L153.55 748.73 L152.32 748.74 L151.23 748.74 L150.24 748.74 L149.29 748.74 L148.33 748.75 L147.3 748.77 L146.13 748.82 L144.79 748.89 L143.2 749 L141.37 749.14 L139.36 749.32 L137.19 749.51 L134.9 749.73 L132.53 749.96 L130.1 750.21 L127.65 750.47 L125.21 750.74 L122.82 751.02 L120.5 751.3 L118.18 751.6 L115.77 751.93 L113.31 752.28 L110.84 752.65 L108.39 753.02 L106.01 753.38 L103.72 753.73 L101.57 754.06 L99.58 754.35 L97.8 754.6 L96.25 754.82 L94.91 755.02 L93.73 755.21 L92.69 755.38 L91.74 755.52 L90.86 755.64 L90 755.73 L89.13 755.79 L88.21 755.81 L87.2 755.8 L86.12 755.75 L85 755.67 L83.85 755.56 L82.71 755.41 L81.57 755.24 L80.46 755.04 L79.39 754.81 L78.38 754.56 L77.45 754.29 L76.6 754 L75.83 753.66 L75.12 753.25 L74.45 752.78 L73.84 752.29 L73.29 751.79 L72.78 751.29 L72.33 750.83 L71.94 750.41 L71.59 750.06 L71.3 749.8"/>
<path class="m" d="M228.9 748.2 L230.1 748.23 L231.69 748.27 L233.59 748.32 L235.7 748.37 L237.96 748.43 L240.28 748.49 L242.58 748.55 L244.77 748.6 L246.77 748.66 L248.5 748.7 L249.95 748.73 L251.18 748.74 L252.27 748.74 L253.26 748.74 L254.21 748.74 L255.17 748.75 L256.2 748.77 L257.37 748.82 L258.71 748.89 L260.3 749 L262.13 749.14 L264.14 749.32 L266.31 749.51 L268.6 749.73 L270.97 749.96 L273.4 750.21 L275.85 750.47 L278.29 750.74 L280.68 751.02 L283 751.3 L285.32 751.6 L287.73 751.93 L290.19 752.28 L292.66 752.65 L295.11 753.02 L297.49 753.38 L299.78 753.73 L301.93 754.06 L303.92 754.35 L305.7 754.6 L307.25 754.82 L308.59 755.02 L309.77 755.21 L310.81 755.38 L311.76 755.52 L312.64 755.64 L313.5 755.73 L314.37 755.79 L315.29 755.81 L316.3 755.8 L317.38 755.75 L318.5 755.67 L319.65 755.56 L320.79 755.41 L321.93 755.24 L323.04 755.04 L324.11 754.81 L325.12 754.56 L326.05 754.29 L326.9 754 L327.67 753.66 L328.38 753.25 L329.05 752.78 L329.66 752.29 L330.21 751.79 L330.72 751.29 L331.17 750.83 L331.56 750.41 L331.91 750.06 L332.2 749.8"/>
<path class="m" d="M71.3 749.8 L71.96 749.95 L72.79 750.17 L73.77 750.44 L74.86 750.74 L76.06 751.04 L77.33 751.34 L78.65 751.62 L80 751.85 L81.36 752.01 L82.7 752.1 L84.06 752.12 L85.48 752.1 L86.95 752.05 L88.47 751.96 L90.01 751.83 L91.58 751.66 L93.15 751.45 L94.71 751.2 L96.27 750.92 L97.8 750.6 L99.32 750.22 L100.84 749.75 L102.36 749.23 L103.88 748.66 L105.4 748.07 L106.92 747.47 L108.44 746.87 L109.96 746.3 L111.48 745.77 L113 745.3 L114.51 744.88 L116.03 744.47 L117.54 744.09 L119.05 743.73 L120.56 743.39 L122.06 743.06 L123.57 742.75 L125.08 742.45 L126.59 742.17 L128.1 741.9 L129.6 741.65 L131.09 741.42 L132.58 741.2 L134.06 741.01 L135.54 740.83 L137.04 740.65 L138.55 740.49 L140.07 740.32 L141.62 740.16 L143.2 740 L144.8 739.84 L146.4 739.68 L148.01 739.52 L149.64 739.37 L151.29 739.22 L152.97 739.08 L154.67 738.95 L156.41 738.82 L158.18 738.71 L160 738.6 L161.86 738.51 L163.77 738.42 L165.71 738.35 L167.69 738.28 L169.69 738.23 L171.72 738.17 L173.77 738.13 L175.84 738.08 L177.91 738.04 L180 738 L182.2 737.96 L184.59 737.93 L187.08 737.9 L189.62 737.88 L192.12 737.86 L194.53 737.85 L196.77 737.83 L198.76 737.82 L200.45 737.81 L201.75 737.8"/>
<path class="m" d="M332.2 749.8 L331.54 749.95 L330.71 750.17 L329.73 750.44 L328.64 750.74 L327.44 751.04 L326.17 751.34 L324.85 751.62 L323.5 751.85 L322.14 752.01 L320.8 752.1 L319.44 752.12 L318.02 752.1 L316.55 752.05 L315.03 751.96 L313.49 751.83 L311.92 751.66 L310.35 751.45 L308.79 751.2 L307.23 750.92 L305.7 750.6 L304.18 750.22 L302.66 749.75 L301.14 749.23 L299.62 748.66 L298.1 748.07 L296.58 747.47 L295.06 746.87 L293.54 746.3 L292.02 745.77 L290.5 745.3 L288.99 744.88 L287.47 744.47 L285.96 744.09 L284.45 743.73 L282.94 743.39 L281.44 743.06 L279.93 742.75 L278.42 742.45 L276.91 742.17 L275.4 741.9 L273.9 741.65 L272.41 741.42 L270.92 741.2 L269.44 741.01 L267.96 740.83 L266.46 740.65 L264.95 740.49 L263.43 740.32 L261.88 740.16 L260.3 740 L258.7 739.84 L257.1 739.68 L255.49 739.52 L253.86 739.37 L252.21 739.22 L250.53 739.08 L248.83 738.95 L247.09 738.82 L245.32 738.71 L243.5 738.6 L241.64 738.51 L239.73 738.42 L237.79 738.35 L235.81 738.28 L233.81 738.23 L231.78 738.17 L229.73 738.13 L227.66 738.08 L225.59 738.04 L223.5 738 L221.3 737.96 L218.91 737.93 L216.42 737.9 L213.88 737.88 L211.38 737.86 L208.97 737.85 L206.73 737.83 L204.74 737.82 L203.05 737.81 L201.75 737.8"/>
<path class="m" d="M97.8 750.7 L98.22 750.65 L98.71 750.6 L99.29 750.54 L99.93 750.47 L100.66 750.39 L101.46 750.3 L102.33 750.2 L103.28 750.08 L104.3 749.95 L105.4 749.8 L106.57 749.63 L107.82 749.43 L109.14 749.22 L110.54 748.99 L112.01 748.75 L113.55 748.5 L115.18 748.25 L116.87 748 L118.65 747.74 L120.5 747.5 L122.49 747.25 L124.65 746.99 L126.94 746.73 L129.32 746.46 L131.74 746.19 L134.18 745.92 L136.58 745.67 L138.92 745.43 L141.13 745.2 L143.2 745 L145.13 744.82 L146.97 744.66 L148.73 744.51 L150.43 744.37 L152.08 744.24 L153.69 744.13 L155.28 744.02 L156.85 743.91 L158.42 743.8 L160 743.7 L161.58 743.6 L163.14 743.5 L164.67 743.41 L166.19 743.33 L167.69 743.25 L169.18 743.17 L170.65 743.1 L172.11 743.03 L173.56 742.97 L175 742.9 L176.43 742.84 L177.83 742.78 L179.23 742.72 L180.6 742.67 L181.97 742.62 L183.33 742.58 L184.68 742.53 L186.02 742.49 L187.36 742.44 L188.7 742.4 L190.09 742.35 L191.56 742.31 L193.07 742.26 L194.59 742.21 L196.08 742.17 L197.5 742.13 L198.81 742.09 L199.99 742.05 L200.98 742.02 L201.75 742"/>
<path class="m" d="M305.7 750.7 L305.28 750.65 L304.79 750.6 L304.21 750.54 L303.57 750.47 L302.84 750.39 L302.04 750.3 L301.17 750.2 L300.22 750.08 L299.2 749.95 L298.1 749.8 L296.93 749.63 L295.68 749.43 L294.36 749.22 L292.96 748.99 L291.49 748.75 L289.95 748.5 L288.32 748.25 L286.63 748 L284.85 747.74 L283 747.5 L281.01 747.25 L278.85 746.99 L276.56 746.73 L274.18 746.46 L271.76 746.19 L269.32 745.92 L266.92 745.67 L264.58 745.43 L262.37 745.2 L260.3 745 L258.37 744.82 L256.53 744.66 L254.77 744.51 L253.07 744.37 L251.42 744.24 L249.81 744.13 L248.22 744.02 L246.65 743.91 L245.08 743.8 L243.5 743.7 L241.92 743.6 L240.36 743.5 L238.83 743.41 L237.31 743.33 L235.81 743.25 L234.32 743.17 L232.85 743.1 L231.39 743.03 L229.94 742.97 L228.5 742.9 L227.07 742.84 L225.67 742.78 L224.27 742.72 L222.9 742.67 L221.53 742.62 L220.17 742.58 L218.82 742.53 L217.48 742.49 L216.14 742.44 L214.8 742.4 L213.41 742.35 L211.94 742.31 L210.43 742.26 L208.91 742.21 L207.42 742.17 L206 742.13 L204.69 742.09 L203.51 742.05 L202.52 742.02 L201.75 742"/>
<path class="m" d="M71.3 749.8 L71.79 749.59 L72.41 749.36 L73.13 749.08 L73.95 748.77 L74.84 748.42 L75.78 748.03 L76.75 747.59 L77.74 747.11 L78.73 746.58 L79.7 746 L80.65 745.36 L81.61 744.65 L82.58 743.89 L83.57 743.08 L84.58 742.23 L85.63 741.34 L86.72 740.44 L87.86 739.53 L89.05 738.61 L90.3 737.7 L91.63 736.76 L93.03 735.75 L94.5 734.71 L96.02 733.64 L97.57 732.57 L99.14 731.52 L100.73 730.51 L102.31 729.55 L103.87 728.68 L105.4 727.9 L106.89 727.22 L108.35 726.62 L109.79 726.09 L111.23 725.61 L112.68 725.18 L114.14 724.78 L115.65 724.41 L117.2 724.04 L118.81 723.68 L120.5 723.3 L122.27 722.92 L124.11 722.57 L126.01 722.23 L127.96 721.9 L129.94 721.59 L131.95 721.29 L133.97 721 L136 720.73 L138.01 720.46 L140 720.2 L141.98 719.95 L143.97 719.71 L145.96 719.48 L147.96 719.26 L149.97 719.06 L151.98 718.86 L153.98 718.68 L155.99 718.51 L158 718.35 L160 718.2 L161.99 718.07 L163.97 717.96 L165.94 717.86 L167.92 717.77 L169.89 717.69 L171.87 717.63 L173.87 717.57 L175.89 717.51 L177.93 717.45 L180 717.4 L182.2 717.35 L184.59 717.3 L187.08 717.26 L189.62 717.23 L192.12 717.2 L194.53 717.17 L196.77 717.15 L198.76 717.13 L200.45 717.12 L201.75 717.1"/>
<path class="m" d="M332.2 749.8 L331.71 749.59 L331.09 749.36 L330.37 749.08 L329.55 748.77 L328.66 748.42 L327.72 748.03 L326.75 747.59 L325.76 747.11 L324.77 746.58 L323.8 746 L322.85 745.36 L321.89 744.65 L320.92 743.89 L319.93 743.08 L318.92 742.23 L317.87 741.34 L316.78 740.44 L315.64 739.53 L314.45 738.61 L313.2 737.7 L311.87 736.76 L310.47 735.75 L309 734.71 L307.48 733.64 L305.93 732.57 L304.36 731.52 L302.77 730.51 L301.19 729.55 L299.63 728.68 L298.1 727.9 L296.61 727.22 L295.15 726.62 L293.71 726.09 L292.27 725.61 L290.82 725.18 L289.36 724.78 L287.85 724.41 L286.3 724.04 L284.69 723.68 L283 723.3 L281.23 722.92 L279.39 722.57 L277.49 722.23 L275.54 721.9 L273.56 721.59 L271.55 721.29 L269.53 721 L267.5 720.73 L265.49 720.46 L263.5 720.2 L261.52 719.95 L259.53 719.71 L257.54 719.48 L255.54 719.26 L253.53 719.06 L251.52 718.86 L249.52 718.68 L247.51 718.51 L245.5 718.35 L243.5 718.2 L241.51 718.07 L239.53 717.96 L237.56 717.86 L235.58 717.77 L233.61 717.69 L231.63 717.63 L229.63 717.57 L227.61 717.51 L225.57 717.45 L223.5 717.4 L221.3 717.35 L218.91 717.3 L216.42 717.26 L213.88 717.23 L211.38 717.2 L208.97 717.17 L206.73 717.15 L204.74 717.13 L203.05 717.12 L201.75 717.1"/>
<path class="m" d="M71.8 630.5 L72.09 631.07 L72.46 631.8 L72.88 632.68 L73.35 633.65 L73.88 634.71 L74.44 635.8 L75.04 636.91 L75.67 638 L76.33 639.04 L77 640 L77.68 640.9 L78.37 641.8 L79.07 642.68 L79.81 643.56 L80.58 644.42 L81.4 645.29 L82.29 646.14 L83.24 647 L84.27 647.85 L85.4 648.7 L86.64 649.57 L87.99 650.47 L89.44 651.38 L90.96 652.29 L92.53 653.19 L94.14 654.06 L95.76 654.89 L97.37 655.67 L98.96 656.37 L100.5 657 L102.03 657.55 L103.58 658.03 L105.15 658.45 L106.72 658.82 L108.28 659.14 L109.83 659.43 L111.34 659.68 L112.82 659.91 L114.24 660.11 L115.6 660.3 L116.94 660.46 L118.3 660.57 L119.65 660.65 L120.97 660.69 L122.24 660.71 L123.44 660.71 L124.53 660.7 L125.51 660.69 L126.34 660.69 L127 660.7 L201.75 660.7"/>
<path class="m" d="M331.7 630.5 L331.4 631.07 L331.04 631.8 L330.62 632.68 L330.15 633.65 L329.62 634.71 L329.06 635.8 L328.46 636.91 L327.83 638 L327.17 639.04 L326.5 640 L325.82 640.9 L325.13 641.8 L324.43 642.68 L323.69 643.56 L322.92 644.42 L322.1 645.29 L321.21 646.14 L320.26 647 L319.23 647.85 L318.1 648.7 L316.86 649.57 L315.51 650.47 L314.06 651.38 L312.54 652.29 L310.97 653.19 L309.36 654.06 L307.74 654.89 L306.13 655.67 L304.54 656.37 L303 657 L301.47 657.55 L299.92 658.03 L298.35 658.45 L296.78 658.82 L295.22 659.14 L293.67 659.43 L292.16 659.68 L290.68 659.91 L289.26 660.11 L287.9 660.3 L286.56 660.46 L285.2 660.57 L283.85 660.65 L282.53 660.69 L281.26 660.71 L280.06 660.71 L278.97 660.7 L277.99 660.69 L277.16 660.69 L276.5 660.7 L201.75 660.7"/>
<path class="m" d="M76.5 606.8 L76.81 606.56 L77.2 606.25 L77.64 605.88 L78.15 605.46 L78.7 605.01 L79.3 604.56 L79.93 604.11 L80.6 603.69 L81.29 603.32 L82 603 L82.79 602.73 L83.69 602.48 L84.67 602.26 L85.7 602.05 L86.74 601.86 L87.76 601.69 L88.7 601.54 L89.55 601.41 L90.26 601.3 L90.8 601.2"/>
<path class="m" d="M327 606.8 L326.69 606.56 L326.3 606.25 L325.86 605.88 L325.35 605.46 L324.8 605.01 L324.2 604.56 L323.57 604.11 L322.9 603.69 L322.21 603.32 L321.5 603 L320.71 602.73 L319.81 602.48 L318.83 602.26 L317.8 602.05 L316.76 601.86 L315.74 601.69 L314.8 601.54 L313.95 601.41 L313.24 601.3 L312.7 601.2"/>
<circle class="m" cx="201.7" cy="683.3" r="16"/>
<circle class="m" cx="201.7" cy="683.3" r="10.4"/>
<path class="t" d="M184 683.3 L219.7 683.3"/>
<path class="t" d="M201.7 665.9 L201.7 701.6"/>
<circle class="m" cx="201.7" cy="757.6" r="7.9"/>
<path class="c" d="M190.8 757.6 L213.2 757.6"/>
<path class="c" d="M201.7 747.7 L201.7 767.8"/>
<path class="t" d="M54.5 554 L54.5 575.25"/>
<path class="t" d="M77.5 554 L77.5 606"/>
<path class="t" d="M36.25 557 L125 557"/>
<path class="a" d="M54.5 557 L45 558.35 L45 555.65 Z"/>
<path class="a" d="M77.5 557 L87 555.65 L87 558.35 Z"/>
<text x="98.75" y="553.5" font-size="17" textLength="16.25" lengthAdjust="spacingAndGlyphs">50</text>
<path class="t" d="M33.75 610.4 L61.5 610.4"/>
<path class="t" d="M33.75 624.2 L61.5 624.2"/>
<path class="t" d="M37 562.75 L37 610.4"/>
<path class="t" d="M37 624.2 L37 642.3"/>
<path class="a" d="M37 610.4 L35.65 600.9 L38.35 600.9 Z"/>
<path class="a" d="M37 624.2 L38.35 633.7 L35.65 633.7 Z"/>
<g transform="translate(33.75 587.75) rotate(-90)">
<text x="0" y="0" font-size="17" textLength="13.75" lengthAdjust="spacingAndGlyphs">32</text>
</g>
<path class="t" d="M6.3 683.2 L84 683.2"/>
<path class="a" d="M54.5 683.2 L45 684.55 L45 681.85 Z"/>
<path class="a" d="M71.3 683.2 L80.8 681.85 L80.8 684.55 Z"/>
<text x="10" y="680.5" font-size="17" textLength="16.3" lengthAdjust="spacingAndGlyphs">25</text>
<path class="t" d="M33.9 725.9 L61.5 725.9"/>
<path class="t" d="M33.9 740.3 L61.5 740.3"/>
<path class="t" d="M37 707.6 L37 725.9"/>
<path class="t" d="M37 740.3 L37 791.1"/>
<path class="a" d="M37 725.9 L35.65 716.4 L38.35 716.4 Z"/>
<path class="a" d="M37 740.3 L38.35 749.8 L35.65 749.8 Z"/>
<g transform="translate(33.9 787.1) rotate(-90)">
<text x="0" y="0" font-size="17" textLength="15.6" lengthAdjust="spacingAndGlyphs">32</text>
</g>
<path class="t" d="M301.7 531 L301.7 608"/>
<path class="a" d="M301.7 579.5 L300.35 570 L303.05 570 Z"/>
<path class="a" d="M301.7 591.3 L303.05 599.3 L300.35 599.3 Z"/>
<path class="t" d="M298.3 590.4 L306.6 590.4"/>
<g transform="translate(298.75 557) rotate(-90)">
<text x="0" y="0" font-size="17" textLength="15.5" lengthAdjust="spacingAndGlyphs">25</text>
</g>
<path class="t" d="M353.25 579.5 L383.75 579.5"/>
<path class="t" d="M342.5 624.5 L384 624.5"/>
<path class="t" d="M380.8 579.5 L380.8 624.5"/>
<path class="a" d="M380.8 579.5 L382.15 589 L379.45 589 Z"/>
<path class="a" d="M380.8 624.5 L379.45 615 L382.15 615 Z"/>
<g transform="translate(377.5 616.5) rotate(-90)">
<text x="0" y="0" font-size="17" textLength="22" lengthAdjust="spacingAndGlyphs">100</text>
</g>
<path class="t" d="M319 683.2 L397.7 683.2"/>
<path class="a" d="M348.8 683.2 L358.3 681.85 L358.3 684.55 Z"/>
<path class="a" d="M332.2 683.2 L322.7 684.55 L322.7 681.85 Z"/>
<text x="370" y="680.5" font-size="17" textLength="17.2" lengthAdjust="spacingAndGlyphs">25</text>
<path class="t" d="M342.5 726.4 L384 726.4"/>
<path class="t" d="M353.3 783.3 L384 783.3"/>
<path class="t" d="M380.9 726.4 L380.9 783.3"/>
<path class="a" d="M380.9 726.4 L382.25 735.9 L379.55 735.9 Z"/>
<path class="a" d="M380.9 783.3 L379.55 773.8 L382.25 773.8 Z"/>
<g transform="translate(377.5 769.5) rotate(-90)">
<text x="0" y="0" font-size="17" textLength="23.1" lengthAdjust="spacingAndGlyphs">126</text>
</g>
<path class="t" d="M277.9 757.7 L277.9 829"/>
<path class="a" d="M277.9 776.2 L276.55 766.7 L279.25 766.7 Z"/>
<path class="a" d="M277.9 783.3 L279.25 792.8 L276.55 792.8 Z"/>
<path class="t" d="M273.5 776.2 L282.5 776.2"/>
<g transform="translate(274.6 824.2) rotate(-90)">
<text x="0" y="0" font-size="17" textLength="12.5" lengthAdjust="spacingAndGlyphs">15</text>
</g>
<path class="k" d="M413.4 679.7 L513.6 621.5 L659.3 705.6 L558.8 763.8 Z"/>
<path class="k" d="M413.4 679.7 L413.4 685.2 L558.8 769 L659.3 710.9 L659.3 705.6"/>
<path class="k" d="M558.8 763.8 L558.8 769"/>
<path class="k" d="M502.4 633.5 L426.4 676.9 L562.4 755.8 L638.2 713"/>
<path class="m" d="M502.4 633.5 L540.5 660.4 L592 691"/>
<path class="k" d="M592 691 L638.2 713"/>
<path class="k" d="M540.5 660.4 L555.6 650.6"/>
<path class="m" d="M541.6 661.6 L556.8 651.7"/>
<path class="k" d="M592 691 L609.4 681.9"/>
<path class="m" d="M590.6 690 L608 681"/>
<path class="t" d="M555.6 650.6 L609.4 681.9"/>
<path class="k" d="M515.2 624.73 L653.97 704.83"/>
<path class="t" d="M549.71 646.96 L649.51 704.57"/>
<path class="t" d="M550.54 649.52 L646.01 704.62"/>
<path class="m" d="M426.35 676.93 L426.86 676.67 L427.49 676.32 L428.24 675.91 L429.07 675.45 L429.98 674.95 L430.96 674.45 L431.98 673.95 L433.02 673.48 L434.08 673.06 L435.13 672.69 L436.21 672.37 L437.36 672.04 L438.56 671.72 L439.8 671.43 L441.07 671.15 L442.34 670.91 L443.61 670.71 L444.85 670.56 L446.07 670.46 L447.23 670.42 L448.37 670.45 L449.49 670.54 L450.61 670.68 L451.72 670.86 L452.81 671.09 L453.88 671.35 L454.91 671.65 L455.92 671.97 L456.89 672.32 L457.82 672.69 L458.71 673.09 L459.55 673.53 L460.36 674.01 L461.14 674.52 L461.89 675.06 L462.61 675.62 L463.32 676.19 L464.02 676.78 L464.7 677.38 L465.39 677.99 L466.05 678.6 L466.69 679.22 L467.31 679.85 L467.92 680.49 L468.51 681.16 L469.09 681.84 L469.67 682.54 L470.25 683.26 L470.84 684.02 L471.44 684.8 L472.04 685.6 L472.62 686.42 L473.2 687.26 L473.79 688.12 L474.37 689 L474.96 689.92 L475.56 690.86 L476.18 691.83 L476.82 692.83 L477.49 693.87 L478.18 694.98 L478.88 696.16 L479.6 697.4 L480.33 698.68 L481.08 699.97 L481.85 701.26 L482.62 702.53 L483.42 703.75 L484.23 704.91 L485.05 705.98 L485.94 707 L486.92 708.02 L487.95 709.01 L489.01 709.98 L490.06 710.89 L491.08 711.75 L492.03 712.53 L492.87 713.23 L493.58 713.82 L494.13 714.3"/>
<path class="m" d="M448.74 687.82 L449.08 687.46 L449.49 687 L449.97 686.45 L450.51 685.84 L451.11 685.17 L451.76 684.48 L452.46 683.78 L453.2 683.08 L453.98 682.4 L454.8 681.77 L455.65 681.18 L456.55 680.6 L457.5 680.03 L458.49 679.46 L459.52 678.89 L460.61 678.3 L461.73 677.7 L462.9 677.07 L464.12 676.42 L465.39 675.72 L466.7 674.98 L468.07 674.21 L469.5 673.41 L470.97 672.59 L472.48 671.75 L474.03 670.89 L475.61 670.02 L477.22 669.15 L478.86 668.27 L480.51 667.4 L482.23 666.51 L484.02 665.61 L485.88 664.68 L487.77 663.75 L489.68 662.81 L491.58 661.88 L493.45 660.96 L495.27 660.05 L497.02 659.17 L498.67 658.32 L500.29 657.47 L501.92 656.59 L503.55 655.7 L505.15 654.82 L506.69 653.97 L508.13 653.16 L509.46 652.42 L510.63 651.76 L511.64 651.2 L512.44 650.76"/>
<path class="m" d="M465.39 698.41 L465.64 698.1 L465.95 697.69 L466.32 697.21 L466.73 696.67 L467.18 696.09 L467.67 695.49 L468.2 694.87 L468.75 694.26 L469.33 693.67 L469.92 693.12 L470.54 692.59 L471.2 692.08 L471.88 691.58 L472.59 691.07 L473.33 690.56 L474.1 690.05 L474.9 689.52 L475.73 688.98 L476.6 688.41 L477.49 687.82 L478.4 687.21 L479.34 686.58 L480.3 685.93 L481.29 685.27 L482.31 684.59 L483.37 683.9 L484.47 683.19 L485.62 682.48 L486.82 681.75 L488.08 681.01 L489.42 680.26 L490.85 679.49 L492.35 678.69 L493.9 677.89 L495.49 677.07 L497.09 676.25 L498.68 675.43 L500.24 674.61 L501.76 673.8 L503.21 673 L504.65 672.17 L506.15 671.29 L507.68 670.38 L509.19 669.46 L510.66 668.56 L512.05 667.7 L513.34 666.91 L514.48 666.2 L515.45 665.6 L516.22 665.13"/>
<path class="m" d="M495.13 714.21 L497.07 713.04 L499.73 711.45 L502.93 709.52 L506.51 707.38 L510.26 705.13 L514.01 702.88 L517.58 700.74 L520.79 698.81 L523.45 697.21 L525.39 696.05"/>
<path class="m" d="M475.98 688.12 L476.31 688.59 L476.74 689.19 L477.25 689.89 L477.82 690.68 L478.43 691.54 L479.08 692.44 L479.75 693.37 L480.42 694.31 L481.09 695.24 L481.72 696.14 L482.36 697.04 L483.01 697.97 L483.68 698.93 L484.37 699.91 L485.05 700.9 L485.74 701.89 L486.42 702.87 L487.09 703.83 L487.75 704.77 L488.38 705.67 L489.02 706.58 L489.68 707.52 L490.35 708.48 L491.02 709.43 L491.67 710.35 L492.29 711.23 L492.86 712.04 L493.36 712.75 L493.79 713.36 L494.13 713.84"/>
<path class="t" d="M465.39 698.41 L465.92 698.79 L466.6 699.28 L467.39 699.86 L468.29 700.51 L469.26 701.21 L470.29 701.94 L471.34 702.68 L472.41 703.41 L473.45 704.11 L474.46 704.77 L475.47 705.39 L476.51 706.04 L477.58 706.68 L478.66 707.33 L479.76 707.97 L480.85 708.6 L481.94 709.2 L483.01 709.78 L484.05 710.32 L485.05 710.82 L486.06 711.28 L487.11 711.73 L488.17 712.16 L489.23 712.56 L490.25 712.93 L491.23 713.28 L492.12 713.59 L492.92 713.86 L493.6 714.1 L494.13 714.3"/>
<path class="m" d="M429.08 688.58 L429.8 688.83 L430.74 689.15 L431.84 689.51 L433.08 689.92 L434.42 690.37 L435.81 690.87 L437.22 691.39 L438.61 691.94 L439.95 692.52 L441.18 693.12 L442.4 693.78 L443.68 694.56 L445 695.4 L446.32 696.29 L447.61 697.18 L448.84 698.05 L449.98 698.87 L451 699.6 L451.85 700.22 L452.53 700.68"/>
<path class="m" d="M429.08 688.58 L429.7 688.98 L430.49 689.48 L431.43 690.07 L432.48 690.74 L433.62 691.46 L434.81 692.23 L436.05 693.02 L437.28 693.82 L438.5 694.61 L439.67 695.39 L440.87 696.19 L442.18 697.09 L443.57 698.03 L444.98 699 L446.38 699.97 L447.73 700.9 L448.98 701.77 L450.1 702.55 L451.04 703.2 L451.77 703.71"/>
<path class="m" d="M452.53 700.68 L451.77 703.71"/>
<path class="t" d="M452.53 701.13 L523.87 740.68"/>
<path class="t" d="M451.77 703.71 L522.36 743.25"/>
<path class="m" d="M523.87 740.68 L522.36 743.25"/>
<path class="m" d="M523.87 741.44 L524.41 741.84 L525.08 742.36 L525.88 742.98 L526.78 743.67 L527.75 744.42 L528.77 745.2 L529.83 745.99 L530.89 746.77 L531.94 747.53 L532.95 748.25 L534 748.96 L535.14 749.72 L536.35 750.5 L537.59 751.3 L538.81 752.07 L539.99 752.82 L541.09 753.51 L542.08 754.13 L542.9 754.65 L543.54 755.05"/>
<path class="m" d="M523.12 742.95 L523.7 743.41 L524.44 744.02 L525.32 744.75 L526.31 745.56 L527.37 746.43 L528.49 747.32 L529.63 748.21 L530.78 749.05 L531.89 749.83 L532.95 750.51 L534.03 751.13 L535.19 751.73 L536.41 752.32 L537.64 752.88 L538.86 753.41 L540.03 753.9 L541.12 754.34 L542.09 754.74 L542.91 755.08 L543.54 755.36"/>
<path class="m" d="M502.39 633.46 L502.73 633.87 L503.18 634.39 L503.72 635 L504.31 635.68 L504.95 636.43 L505.61 637.23 L506.27 638.07 L506.9 638.94 L507.48 639.82 L507.99 640.72 L508.44 641.64 L508.87 642.6 L509.28 643.6 L509.67 644.64 L510.04 645.71 L510.4 646.8 L510.75 647.92 L511.09 649.04 L511.43 650.17 L511.77 651.31 L512.1 652.46 L512.4 653.63 L512.69 654.83 L512.96 656.04 L513.24 657.27 L513.51 658.5 L513.8 659.73 L514.11 660.97 L514.44 662.19 L514.8 663.41 L515.18 664.63 L515.58 665.86 L516 667.09 L516.43 668.33 L516.88 669.56 L517.34 670.78 L517.81 671.99 L518.31 673.19 L518.81 674.37 L519.33 675.51 L519.89 676.65 L520.47 677.78 L521.09 678.9 L521.72 680 L522.36 681.09 L523 682.16 L523.63 683.2 L524.25 684.2 L524.84 685.17 L525.39 686.1 L525.93 687.03 L526.49 687.99 L527.05 688.95 L527.6 689.89 L528.13 690.78 L528.62 691.6 L529.06 692.32 L529.43 692.92 L529.72 693.38 L529.92 693.67 L529.96 693.68 L529.8 693.39 L529.5 692.88 L529.12 692.23 L528.72 691.52 L528.36 690.84 L528.08 690.26 L527.96 689.87 L528.05 689.76 L528.4 690 L529.01 690.61 L529.82 691.53 L530.8 692.69 L531.93 694.02 L533.16 695.49 L534.48 697.01 L535.85 698.54 L537.24 700.01 L538.64 701.38 L540 702.56 L541.37 703.62 L542.8 704.63 L544.28 705.59 L545.8 706.52 L547.34 707.42 L548.91 708.29 L550.48 709.14 L552.05 709.98 L553.6 710.81 L555.13 711.64 L556.65 712.47 L558.18 713.28 L559.71 714.07 L561.25 714.85 L562.79 715.61 L564.31 716.36 L565.83 717.1 L567.33 717.81 L568.81 718.52 L570.26 719.21 L571.72 719.89 L573.22 720.59 L574.74 721.29 L576.25 721.97 L577.73 722.64 L579.15 723.27 L580.5 723.86 L581.75 724.39 L582.89 724.86 L583.87 725.26 L584.71 725.57 L585.43 725.81 L586.04 725.98 L586.56 726.09 L586.99 726.16 L587.36 726.21 L587.67 726.23 L587.94 726.25 L588.18 726.28 L588.41 726.32"/>
<path class="m" d="M504.96 634.67 L505.43 635.1 L506.04 635.62 L506.77 636.24 L507.59 636.93 L508.46 637.69 L509.36 638.52 L510.24 639.39 L511.09 640.31 L511.86 641.26 L512.53 642.23 L513.11 643.27 L513.66 644.41 L514.17 645.62 L514.65 646.89 L515.11 648.19 L515.54 649.49 L515.94 650.78 L516.33 652.03 L516.7 653.23 L517.07 654.33 L517.39 655.36 L517.68 656.32 L517.93 657.23 L518.16 658.11 L518.37 658.97 L518.58 659.82 L518.8 660.67 L519.05 661.55 L519.32 662.46 L519.64 663.41 L519.98 664.41 L520.32 665.43 L520.68 666.48 L521.05 667.54 L521.44 668.61 L521.86 669.69 L522.31 670.78 L522.79 671.86 L523.31 672.94 L523.87 674 L524.51 675.09 L525.25 676.24 L526.04 677.42 L526.88 678.6 L527.73 679.77 L528.58 680.9 L529.4 681.97 L530.16 682.96 L530.85 683.84 L531.44 684.59 L531.91 685.2 L532.28 685.69 L532.57 686.07 L532.81 686.37 L533.01 686.6 L533.22 686.8 L533.44 686.98 L533.71 687.16 L534.04 687.37 L534.46 687.62 L534.96 687.88 L535.5 688.13 L536.07 688.35 L536.68 688.58 L537.32 688.8 L538 689.03 L538.7 689.28 L539.44 689.55 L540.21 689.85 L541 690.2 L541.79 690.56 L542.56 690.93 L543.34 691.29 L544.13 691.68 L544.97 692.1 L545.88 692.56 L546.88 693.06 L547.98 693.63 L549.21 694.28 L550.59 695 L552.15 695.82 L553.88 696.75 L555.75 697.75 L557.73 698.82 L559.79 699.93 L561.91 701.08 L564.04 702.23 L566.16 703.38 L568.25 704.5 L570.26 705.59 L572.26 706.68 L574.34 707.83 L576.44 709.01 L578.56 710.19 L580.66 711.36 L582.71 712.49 L584.69 713.56 L586.57 714.55 L588.33 715.43 L589.92 716.18 L591.36 716.81 L592.65 717.34 L593.82 717.79 L594.89 718.15 L595.88 718.45 L596.82 718.69 L597.73 718.87 L598.64 719.01 L599.56 719.12 L600.51 719.21 L601.48 719.26 L602.43 719.27 L603.35 719.23 L604.25 719.15 L605.15 719.02 L606.03 718.84 L606.92 718.62 L607.8 718.36 L608.69 718.05 L609.59 717.69 L610.51 717.25 L611.46 716.71 L612.41 716.09 L613.37 715.42 L614.32 714.71 L615.26 714.01 L616.17 713.32 L617.05 712.68 L617.88 712.11 L618.67 711.64 L619.4 711.25 L620.07 710.9 L620.71 710.59 L621.31 710.32 L621.88 710.08 L622.44 709.88 L623 709.71 L623.56 709.57 L624.13 709.46 L624.72 709.37 L625.32 709.32 L625.91 709.3 L626.49 709.31 L627.08 709.36 L627.66 709.44 L628.25 709.54 L628.86 709.66 L629.47 709.8 L630.11 709.96 L630.77 710.13 L631.49 710.33 L632.29 710.59 L633.13 710.89 L633.99 711.21 L634.86 711.54 L635.69 711.86 L636.46 712.17 L637.15 712.45 L637.74 712.68 L638.18 712.85"/>
<path class="m" d="M502.69 673.25 L502.9 673.65 L503.16 674.16 L503.45 674.76 L503.79 675.44 L504.16 676.18 L504.56 676.95 L505 677.74 L505.46 678.53 L505.96 679.31 L506.48 680.05 L507.02 680.79 L507.61 681.54 L508.22 682.31 L508.87 683.1 L509.55 683.88 L510.25 684.66 L510.98 685.44 L511.73 686.19 L512.5 686.92 L513.28 687.62 L514.13 688.3 L515.05 688.97 L516.03 689.64 L517.04 690.29 L518.06 690.93 L519.06 691.54 L520.01 692.12 L520.9 692.68 L521.69 693.19 L522.36 693.67 L522.91 694.11 L523.35 694.53 L523.7 694.92 L523.99 695.28 L524.23 695.61 L524.44 695.9 L524.65 696.16 L524.86 696.38 L525.1 696.56 L525.39 696.69 L525.7 696.79 L526.02 696.85 L526.33 696.86 L526.65 696.85 L526.97 696.79 L527.3 696.69 L527.64 696.56 L527.99 696.39 L528.34 696.18 L528.71 695.94 L529.11 695.63 L529.55 695.26 L530 694.83 L530.47 694.36 L530.95 693.86 L531.41 693.34 L531.85 692.82 L532.26 692.32 L532.63 691.84 L532.95 691.4 L533.22 690.97 L533.45 690.53 L533.65 690.09 L533.82 689.65 L533.97 689.22 L534.1 688.82 L534.21 688.45 L534.3 688.12 L534.39 687.84 L534.46 687.62"/>
<path class="m" d="M589.92 716.94 L589.89 717.26 L589.85 717.68 L589.81 718.18 L589.75 718.75 L589.7 719.35 L589.63 719.97 L589.56 720.59 L589.49 721.18 L589.41 721.74 L589.32 722.23 L589.23 722.68 L589.15 723.12 L589.07 723.54 L588.99 723.95 L588.89 724.35 L588.79 724.73 L588.66 725.08 L588.51 725.42 L588.32 725.73 L588.11 726.01 L587.84 726.27 L587.5 726.51 L587.12 726.72 L586.71 726.91 L586.29 727.08 L585.88 727.23 L585.49 727.37 L585.14 727.49 L584.85 727.59 L584.63 727.68"/>
<path class="m" d="M584.63 727.68 L585.11 727.54 L585.72 727.37 L586.44 727.17 L587.25 726.95 L588.13 726.7 L589.06 726.44 L590.02 726.16 L591.01 725.87 L591.99 725.57 L592.95 725.26 L593.92 724.94 L594.95 724.6 L596.01 724.24 L597.1 723.86 L598.2 723.48 L599.3 723.09 L600.4 722.69 L601.48 722.28 L602.53 721.88 L603.54 721.48 L604.55 721.05 L605.6 720.59 L606.66 720.1 L607.72 719.61 L608.74 719.12 L609.71 718.65 L610.61 718.21 L611.41 717.82 L612.08 717.49 L612.62 717.24"/>
<path class="m" d="M540 739.93 L541.35 739.51 L543.1 738.96 L545.16 738.3 L547.48 737.57 L549.98 736.78 L552.58 735.96 L555.23 735.13 L557.84 734.32 L560.35 733.54 L562.69 732.82 L565.02 732.12 L567.48 731.38 L570.02 730.62 L572.57 729.86 L575.08 729.12 L577.47 728.42 L579.68 727.77 L581.66 727.19 L583.33 726.7 L584.63 726.32"/>
<path class="m" d="M554.37 744.92 L556.24 744.11 L558.66 743.07 L561.53 741.84 L564.74 740.46 L568.2 738.97 L571.79 737.41 L575.4 735.82 L578.95 734.25 L582.31 732.73 L585.39 731.31 L588.37 729.89 L591.46 728.37 L594.61 726.8 L597.74 725.21 L600.79 723.65 L603.68 722.16 L606.34 720.78 L608.72 719.54 L610.73 718.5 L612.31 717.69"/>
<path class="t" d="M559.67 753.25 L632.28 712.85"/>
<path class="m" d="M549.08 744.92 L549.9 744.99 L550.98 745.09 L552.26 745.21 L553.69 745.35 L555.22 745.49 L556.81 745.61 L558.4 745.71 L559.95 745.76 L561.39 745.75 L562.69 745.68 L563.91 745.53 L565.13 745.32 L566.33 745.05 L567.51 744.74 L568.65 744.4 L569.74 744.05 L570.76 743.68 L571.7 743.32 L572.54 742.97 L573.28 742.66 L573.91 742.34 L574.42 742 L574.84 741.65 L575.18 741.3 L575.46 740.95 L575.68 740.62 L575.86 740.31 L576.02 740.04 L576.16 739.81 L576.31 739.63"/>
<path class="m" d="M576.31 740.39 L576.29 740.75 L576.3 741.21 L576.33 741.76 L576.35 742.37 L576.36 743.03 L576.33 743.73 L576.25 744.43 L576.1 745.13 L575.88 745.8 L575.55 746.44 L575.11 747.06 L574.54 747.7 L573.88 748.35 L573.16 749 L572.38 749.65 L571.59 750.29 L570.81 750.9 L570.06 751.47 L569.36 752.01 L568.74 752.49 L568.18 752.93 L567.62 753.34 L567.07 753.71 L566.55 754.06 L566.05 754.38 L565.59 754.67 L565.16 754.92 L564.79 755.15 L564.47 755.35 L564.21 755.51"/>
<path class="m" d="M495.13 714.21 L549.08 744.92"/>
<path class="t" d="M612.31 715.42 L613.52 717.69"/>
<path class="t" d="M622.15 709.37 L622.9 711.34"/>
<ellipse class="m" cx="574" cy="671.5" rx="5.3" ry="3.3"/>
<path class="t" d="M570.3 672.4 A4 2.3 0 0 0 577.8 672.4"/>
<ellipse class="m" cx="536.7" cy="722.5" rx="19.7" ry="11.3"/>
<ellipse class="m" cx="537.5" cy="724.5" rx="13.6" ry="7.9"/>
<path d="M529.4 729.6 A8.3 4.2 0 0 1 545.6 729.6" fill="none" stroke="#000" stroke-width="2.4"/>
<ellipse class="t" cx="537.5" cy="729.4" rx="8.3" ry="4.1"/>
</g></svg></body></html>
